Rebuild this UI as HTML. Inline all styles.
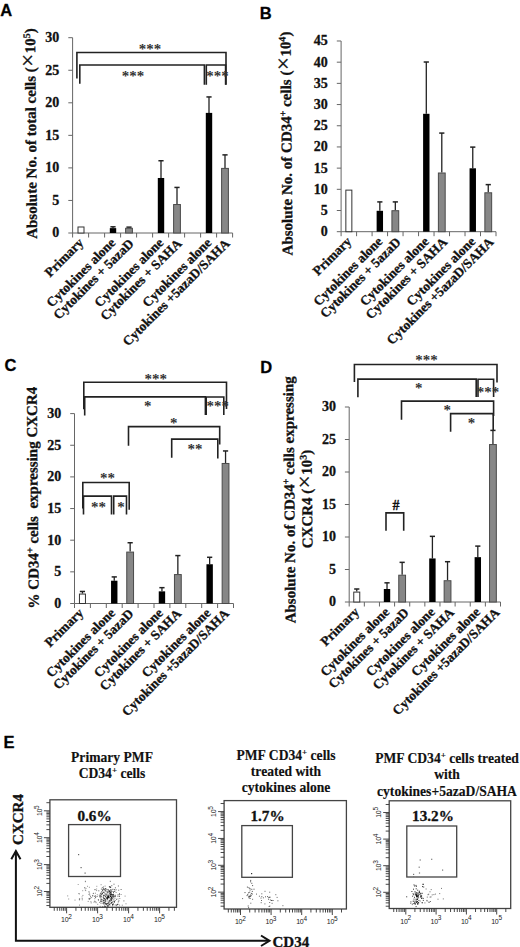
<!DOCTYPE html>
<html><head><meta charset="utf-8"><style>
html,body{margin:0;padding:0;background:#fff;width:520px;height:947px;overflow:hidden;font-family:"Liberation Serif",serif;}
svg{display:block}
text{stroke:#111;stroke-width:0.3px;stroke-linejoin:round}
text.ns{stroke:none}
text.lt{stroke-width:0.15px}
</style></head><body>
<svg width="520" height="947" viewBox="0 0 520 947">
<rect width="520" height="947" fill="#fff"/>
<line x1="72.60" y1="37.70" x2="72.60" y2="233.00" stroke="#666" stroke-width="1" />
<line x1="68.30" y1="233.00" x2="72.60" y2="233.00" stroke="#666" stroke-width="1" />
<text x="59.30" y="237.40" font-family="Liberation Serif" font-weight="bold" font-size="14" text-anchor="end" fill="#111" >0</text>
<line x1="68.30" y1="200.45" x2="72.60" y2="200.45" stroke="#666" stroke-width="1" />
<text x="59.30" y="204.85" font-family="Liberation Serif" font-weight="bold" font-size="14" text-anchor="end" fill="#111" >5</text>
<line x1="68.30" y1="167.90" x2="72.60" y2="167.90" stroke="#666" stroke-width="1" />
<text x="59.30" y="172.30" font-family="Liberation Serif" font-weight="bold" font-size="14" text-anchor="end" fill="#111" >10</text>
<line x1="68.30" y1="135.35" x2="72.60" y2="135.35" stroke="#666" stroke-width="1" />
<text x="59.30" y="139.75" font-family="Liberation Serif" font-weight="bold" font-size="14" text-anchor="end" fill="#111" >15</text>
<line x1="68.30" y1="102.80" x2="72.60" y2="102.80" stroke="#666" stroke-width="1" />
<text x="59.30" y="107.20" font-family="Liberation Serif" font-weight="bold" font-size="14" text-anchor="end" fill="#111" >20</text>
<line x1="68.30" y1="70.25" x2="72.60" y2="70.25" stroke="#666" stroke-width="1" />
<text x="59.30" y="74.65" font-family="Liberation Serif" font-weight="bold" font-size="14" text-anchor="end" fill="#111" >25</text>
<line x1="68.30" y1="37.70" x2="72.60" y2="37.70" stroke="#666" stroke-width="1" />
<text x="59.30" y="42.10" font-family="Liberation Serif" font-weight="bold" font-size="14" text-anchor="end" fill="#111" >30</text>
<line x1="72.60" y1="233.00" x2="232.60" y2="233.00" stroke="#666" stroke-width="1" />
<line x1="72.60" y1="233.00" x2="72.60" y2="237.50" stroke="#666" stroke-width="1" />
<line x1="88.60" y1="233.00" x2="88.60" y2="237.50" stroke="#666" stroke-width="1" />
<line x1="104.60" y1="233.00" x2="104.60" y2="237.50" stroke="#666" stroke-width="1" />
<line x1="120.60" y1="233.00" x2="120.60" y2="237.50" stroke="#666" stroke-width="1" />
<line x1="136.60" y1="233.00" x2="136.60" y2="237.50" stroke="#666" stroke-width="1" />
<line x1="152.60" y1="233.00" x2="152.60" y2="237.50" stroke="#666" stroke-width="1" />
<line x1="168.60" y1="233.00" x2="168.60" y2="237.50" stroke="#666" stroke-width="1" />
<line x1="184.60" y1="233.00" x2="184.60" y2="237.50" stroke="#666" stroke-width="1" />
<line x1="200.60" y1="233.00" x2="200.60" y2="237.50" stroke="#666" stroke-width="1" />
<line x1="216.60" y1="233.00" x2="216.60" y2="237.50" stroke="#666" stroke-width="1" />
<line x1="232.60" y1="233.00" x2="232.60" y2="237.50" stroke="#666" stroke-width="1" />
<rect x="78.00" y="226.99" width="6.00" height="6.01" fill="#fff" stroke="#333" stroke-width="1"/>
<line x1="113.00" y1="226.82" x2="113.00" y2="228.12" stroke="#222" stroke-width="1.3" />
<line x1="110.40" y1="226.82" x2="115.60" y2="226.82" stroke="#222" stroke-width="1.5" />
<rect x="109.80" y="228.12" width="6.40" height="4.88" fill="#000"/>
<line x1="129.00" y1="227.14" x2="129.00" y2="227.79" stroke="#222" stroke-width="1.3" />
<line x1="126.40" y1="227.14" x2="131.60" y2="227.14" stroke="#222" stroke-width="1.5" />
<rect x="125.60" y="228.29" width="6.80" height="4.71" fill="#878787" stroke="#4a4a4a" stroke-width="1"/>
<line x1="161.00" y1="160.74" x2="161.00" y2="177.99" stroke="#222" stroke-width="1.3" />
<line x1="158.40" y1="160.74" x2="163.60" y2="160.74" stroke="#222" stroke-width="1.5" />
<rect x="157.80" y="177.99" width="6.40" height="55.01" fill="#000"/>
<line x1="177.00" y1="187.43" x2="177.00" y2="204.03" stroke="#222" stroke-width="1.3" />
<line x1="174.40" y1="187.43" x2="179.60" y2="187.43" stroke="#222" stroke-width="1.5" />
<rect x="173.60" y="204.53" width="6.80" height="28.47" fill="#878787" stroke="#4a4a4a" stroke-width="1"/>
<line x1="209.00" y1="96.94" x2="209.00" y2="112.89" stroke="#222" stroke-width="1.3" />
<line x1="206.40" y1="96.94" x2="211.60" y2="96.94" stroke="#222" stroke-width="1.5" />
<rect x="205.80" y="112.89" width="6.40" height="120.11" fill="#000"/>
<line x1="225.00" y1="154.88" x2="225.00" y2="167.90" stroke="#222" stroke-width="1.3" />
<line x1="222.40" y1="154.88" x2="227.60" y2="154.88" stroke="#222" stroke-width="1.5" />
<rect x="221.60" y="168.40" width="6.80" height="64.60" fill="#878787" stroke="#4a4a4a" stroke-width="1"/>
<text x="0.00" y="0.00" font-family="Liberation Serif" font-weight="bold" font-size="13.4" text-anchor="end" fill="#111" transform="translate(81.10,240.30) rotate(-45)" dominant-baseline="central">Primary</text>
<text x="0.00" y="0.00" font-family="Liberation Serif" font-weight="bold" font-size="13.4" text-anchor="end" fill="#111" transform="translate(113.10,240.30) rotate(-45)" dominant-baseline="central">Cytokines alone</text>
<text x="0.00" y="0.00" font-family="Liberation Serif" font-weight="bold" font-size="13.4" text-anchor="end" fill="#111" transform="translate(131.40,241.10) rotate(-45)" dominant-baseline="central">Cytokines + 5azaD</text>
<text x="0.00" y="0.00" font-family="Liberation Serif" font-weight="bold" font-size="13.4" text-anchor="end" fill="#111" transform="translate(161.10,240.30) rotate(-45)" dominant-baseline="central">Cytokines alone</text>
<text x="0.00" y="0.00" font-family="Liberation Serif" font-weight="bold" font-size="13.4" text-anchor="end" fill="#111" transform="translate(179.40,241.10) rotate(-45)" dominant-baseline="central">Cytokines + SAHA</text>
<text x="0.00" y="0.00" font-family="Liberation Serif" font-weight="bold" font-size="13.4" text-anchor="end" fill="#111" transform="translate(209.10,240.30) rotate(-45)" dominant-baseline="central">Cytokines alone</text>
<text x="0.00" y="0.00" font-family="Liberation Serif" font-weight="bold" font-size="13.4" text-anchor="end" fill="#111" transform="translate(227.40,241.10) rotate(-45)" dominant-baseline="central">Cytokines +5azaD/SAHA</text>
<path d="M76.90 78.50 V52.50 H226.00 V84.80" fill="none" stroke="#222" stroke-width="1.6" stroke-linejoin="miter"/>
<text x="150.00" y="53.50" font-family="Liberation Serif" font-weight="bold" font-size="15" text-anchor="middle" fill="#333" class="ns">***</text>
<path d="M79.80 83.80 V65.00 H204.40 V84.80" fill="none" stroke="#222" stroke-width="1.6" stroke-linejoin="miter"/>
<text x="133.00" y="81.30" font-family="Liberation Serif" font-weight="bold" font-size="15" text-anchor="middle" fill="#333" class="ns">***</text>
<path d="M206.30 84.80 V65.00 H225.60 V84.80" fill="none" stroke="#222" stroke-width="1.6" stroke-linejoin="miter"/>
<text x="217.50" y="81.30" font-family="Liberation Serif" font-weight="bold" font-size="15" text-anchor="middle" fill="#333" class="ns">***</text>
<text transform="translate(36.00,133.50) rotate(-90.55)" font-family="Liberation Serif" font-weight="bold" font-size="15" text-anchor="middle" fill="#111">Absolute No. of total cells (<tspan font-weight="normal" font-size="23" dx="0.5">×</tspan><tspan dx="0.5">10</tspan><tspan dy="-5" font-size="10">5</tspan><tspan dy="5">)</tspan></text>
<text x="0.20" y="16.40" font-family="Liberation Sans" font-weight="bold" font-size="16.5" text-anchor="start" fill="#000" >A</text>
<line x1="341.10" y1="40.99" x2="341.10" y2="231.70" stroke="#666" stroke-width="1" />
<line x1="336.80" y1="231.70" x2="341.10" y2="231.70" stroke="#666" stroke-width="1" />
<text x="327.80" y="236.10" font-family="Liberation Serif" font-weight="bold" font-size="14" text-anchor="end" fill="#111" >0</text>
<line x1="336.80" y1="210.51" x2="341.10" y2="210.51" stroke="#666" stroke-width="1" />
<text x="327.80" y="214.91" font-family="Liberation Serif" font-weight="bold" font-size="14" text-anchor="end" fill="#111" >5</text>
<line x1="336.80" y1="189.32" x2="341.10" y2="189.32" stroke="#666" stroke-width="1" />
<text x="327.80" y="193.72" font-family="Liberation Serif" font-weight="bold" font-size="14" text-anchor="end" fill="#111" >10</text>
<line x1="336.80" y1="168.13" x2="341.10" y2="168.13" stroke="#666" stroke-width="1" />
<text x="327.80" y="172.53" font-family="Liberation Serif" font-weight="bold" font-size="14" text-anchor="end" fill="#111" >15</text>
<line x1="336.80" y1="146.94" x2="341.10" y2="146.94" stroke="#666" stroke-width="1" />
<text x="327.80" y="151.34" font-family="Liberation Serif" font-weight="bold" font-size="14" text-anchor="end" fill="#111" >20</text>
<line x1="336.80" y1="125.75" x2="341.10" y2="125.75" stroke="#666" stroke-width="1" />
<text x="327.80" y="130.15" font-family="Liberation Serif" font-weight="bold" font-size="14" text-anchor="end" fill="#111" >25</text>
<line x1="336.80" y1="104.56" x2="341.10" y2="104.56" stroke="#666" stroke-width="1" />
<text x="327.80" y="108.96" font-family="Liberation Serif" font-weight="bold" font-size="14" text-anchor="end" fill="#111" >30</text>
<line x1="336.80" y1="83.37" x2="341.10" y2="83.37" stroke="#666" stroke-width="1" />
<text x="327.80" y="87.77" font-family="Liberation Serif" font-weight="bold" font-size="14" text-anchor="end" fill="#111" >35</text>
<line x1="336.80" y1="62.18" x2="341.10" y2="62.18" stroke="#666" stroke-width="1" />
<text x="327.80" y="66.58" font-family="Liberation Serif" font-weight="bold" font-size="14" text-anchor="end" fill="#111" >40</text>
<line x1="336.80" y1="40.99" x2="341.10" y2="40.99" stroke="#666" stroke-width="1" />
<text x="327.80" y="45.39" font-family="Liberation Serif" font-weight="bold" font-size="14" text-anchor="end" fill="#111" >45</text>
<line x1="341.10" y1="231.70" x2="496.00" y2="231.70" stroke="#666" stroke-width="1" />
<line x1="341.10" y1="231.70" x2="341.10" y2="236.20" stroke="#666" stroke-width="1" />
<line x1="356.59" y1="231.70" x2="356.59" y2="236.20" stroke="#666" stroke-width="1" />
<line x1="372.08" y1="231.70" x2="372.08" y2="236.20" stroke="#666" stroke-width="1" />
<line x1="387.57" y1="231.70" x2="387.57" y2="236.20" stroke="#666" stroke-width="1" />
<line x1="403.06" y1="231.70" x2="403.06" y2="236.20" stroke="#666" stroke-width="1" />
<line x1="418.55" y1="231.70" x2="418.55" y2="236.20" stroke="#666" stroke-width="1" />
<line x1="434.04" y1="231.70" x2="434.04" y2="236.20" stroke="#666" stroke-width="1" />
<line x1="449.53" y1="231.70" x2="449.53" y2="236.20" stroke="#666" stroke-width="1" />
<line x1="465.02" y1="231.70" x2="465.02" y2="236.20" stroke="#666" stroke-width="1" />
<line x1="480.51" y1="231.70" x2="480.51" y2="236.20" stroke="#666" stroke-width="1" />
<line x1="496.00" y1="231.70" x2="496.00" y2="236.20" stroke="#666" stroke-width="1" />
<rect x="345.85" y="190.12" width="6.00" height="41.58" fill="#fff" stroke="#333" stroke-width="1"/>
<line x1="379.83" y1="201.91" x2="379.83" y2="210.81" stroke="#222" stroke-width="1.3" />
<line x1="377.23" y1="201.91" x2="382.43" y2="201.91" stroke="#222" stroke-width="1.5" />
<rect x="376.63" y="210.81" width="6.40" height="20.89" fill="#000"/>
<line x1="395.32" y1="201.91" x2="395.32" y2="210.21" stroke="#222" stroke-width="1.3" />
<line x1="392.72" y1="201.91" x2="397.92" y2="201.91" stroke="#222" stroke-width="1.5" />
<rect x="391.92" y="210.71" width="6.80" height="20.99" fill="#878787" stroke="#4a4a4a" stroke-width="1"/>
<line x1="426.30" y1="62.01" x2="426.30" y2="113.80" stroke="#222" stroke-width="1.3" />
<line x1="423.69" y1="62.01" x2="428.90" y2="62.01" stroke="#222" stroke-width="1.5" />
<rect x="423.10" y="113.80" width="6.40" height="117.90" fill="#000"/>
<line x1="441.79" y1="133.08" x2="441.79" y2="172.50" stroke="#222" stroke-width="1.3" />
<line x1="439.19" y1="133.08" x2="444.39" y2="133.08" stroke="#222" stroke-width="1.5" />
<rect x="438.39" y="173.00" width="6.80" height="58.70" fill="#878787" stroke="#4a4a4a" stroke-width="1"/>
<line x1="472.76" y1="147.11" x2="472.76" y2="168.30" stroke="#222" stroke-width="1.3" />
<line x1="470.16" y1="147.11" x2="475.37" y2="147.11" stroke="#222" stroke-width="1.5" />
<rect x="469.56" y="168.30" width="6.40" height="63.40" fill="#000"/>
<line x1="488.25" y1="184.62" x2="488.25" y2="192.29" stroke="#222" stroke-width="1.3" />
<line x1="485.65" y1="184.62" x2="490.86" y2="184.62" stroke="#222" stroke-width="1.5" />
<rect x="484.86" y="192.79" width="6.80" height="38.91" fill="#878787" stroke="#4a4a4a" stroke-width="1"/>
<text x="0.00" y="0.00" font-family="Liberation Serif" font-weight="bold" font-size="13.4" text-anchor="end" fill="#111" transform="translate(349.05,239.00) rotate(-45)" dominant-baseline="central">Primary</text>
<text x="0.00" y="0.00" font-family="Liberation Serif" font-weight="bold" font-size="13.4" text-anchor="end" fill="#111" transform="translate(380.03,239.00) rotate(-45)" dominant-baseline="central">Cytokines alone</text>
<text x="0.00" y="0.00" font-family="Liberation Serif" font-weight="bold" font-size="13.4" text-anchor="end" fill="#111" transform="translate(398.32,239.80) rotate(-45)" dominant-baseline="central">Cytokines + 5azaD</text>
<text x="0.00" y="0.00" font-family="Liberation Serif" font-weight="bold" font-size="13.4" text-anchor="end" fill="#111" transform="translate(426.50,239.00) rotate(-45)" dominant-baseline="central">Cytokines alone</text>
<text x="0.00" y="0.00" font-family="Liberation Serif" font-weight="bold" font-size="13.4" text-anchor="end" fill="#111" transform="translate(444.79,239.80) rotate(-45)" dominant-baseline="central">Cytokines + SAHA</text>
<text x="0.00" y="0.00" font-family="Liberation Serif" font-weight="bold" font-size="13.4" text-anchor="end" fill="#111" transform="translate(472.96,239.00) rotate(-45)" dominant-baseline="central">Cytokines alone</text>
<text x="0.00" y="0.00" font-family="Liberation Serif" font-weight="bold" font-size="13.4" text-anchor="end" fill="#111" transform="translate(491.25,239.80) rotate(-45)" dominant-baseline="central">Cytokines +5azaD/SAHA</text>
<text transform="translate(291.50,143.50) rotate(-90.55)" font-family="Liberation Serif" font-weight="bold" font-size="15" text-anchor="middle" fill="#111">Absolute No. of CD34<tspan dy="-5" font-size="10">+</tspan><tspan dy="5"> cells </tspan>(<tspan font-weight="normal" font-size="23" dx="0.5">×</tspan><tspan dx="0.5">10</tspan><tspan dy="-5" font-size="10">4</tspan><tspan dy="5">)</tspan></text>
<text x="259.80" y="19.30" font-family="Liberation Sans" font-weight="bold" font-size="16.5" text-anchor="start" fill="#000" >B</text>
<line x1="74.50" y1="413.60" x2="74.50" y2="603.50" stroke="#666" stroke-width="1" />
<line x1="70.20" y1="603.50" x2="74.50" y2="603.50" stroke="#666" stroke-width="1" />
<text x="61.20" y="607.90" font-family="Liberation Serif" font-weight="bold" font-size="14" text-anchor="end" fill="#111" >0</text>
<line x1="70.20" y1="571.85" x2="74.50" y2="571.85" stroke="#666" stroke-width="1" />
<text x="61.20" y="576.25" font-family="Liberation Serif" font-weight="bold" font-size="14" text-anchor="end" fill="#111" >5</text>
<line x1="70.20" y1="540.20" x2="74.50" y2="540.20" stroke="#666" stroke-width="1" />
<text x="61.20" y="544.60" font-family="Liberation Serif" font-weight="bold" font-size="14" text-anchor="end" fill="#111" >10</text>
<line x1="70.20" y1="508.55" x2="74.50" y2="508.55" stroke="#666" stroke-width="1" />
<text x="61.20" y="512.95" font-family="Liberation Serif" font-weight="bold" font-size="14" text-anchor="end" fill="#111" >15</text>
<line x1="70.20" y1="476.90" x2="74.50" y2="476.90" stroke="#666" stroke-width="1" />
<text x="61.20" y="481.30" font-family="Liberation Serif" font-weight="bold" font-size="14" text-anchor="end" fill="#111" >20</text>
<line x1="70.20" y1="445.25" x2="74.50" y2="445.25" stroke="#666" stroke-width="1" />
<text x="61.20" y="449.65" font-family="Liberation Serif" font-weight="bold" font-size="14" text-anchor="end" fill="#111" >25</text>
<line x1="70.20" y1="413.60" x2="74.50" y2="413.60" stroke="#666" stroke-width="1" />
<text x="61.20" y="418.00" font-family="Liberation Serif" font-weight="bold" font-size="14" text-anchor="end" fill="#111" >30</text>
<line x1="74.50" y1="603.50" x2="233.50" y2="603.50" stroke="#666" stroke-width="1" />
<line x1="74.50" y1="603.50" x2="74.50" y2="608.00" stroke="#666" stroke-width="1" />
<line x1="90.40" y1="603.50" x2="90.40" y2="608.00" stroke="#666" stroke-width="1" />
<line x1="106.30" y1="603.50" x2="106.30" y2="608.00" stroke="#666" stroke-width="1" />
<line x1="122.20" y1="603.50" x2="122.20" y2="608.00" stroke="#666" stroke-width="1" />
<line x1="138.10" y1="603.50" x2="138.10" y2="608.00" stroke="#666" stroke-width="1" />
<line x1="154.00" y1="603.50" x2="154.00" y2="608.00" stroke="#666" stroke-width="1" />
<line x1="169.90" y1="603.50" x2="169.90" y2="608.00" stroke="#666" stroke-width="1" />
<line x1="185.80" y1="603.50" x2="185.80" y2="608.00" stroke="#666" stroke-width="1" />
<line x1="201.70" y1="603.50" x2="201.70" y2="608.00" stroke="#666" stroke-width="1" />
<line x1="217.60" y1="603.50" x2="217.60" y2="608.00" stroke="#666" stroke-width="1" />
<line x1="233.50" y1="603.50" x2="233.50" y2="608.00" stroke="#666" stroke-width="1" />
<line x1="82.45" y1="591.47" x2="82.45" y2="593.56" stroke="#222" stroke-width="1.3" />
<line x1="79.85" y1="591.47" x2="85.05" y2="591.47" stroke="#222" stroke-width="1.5" />
<rect x="79.45" y="594.06" width="6.00" height="9.44" fill="#fff" stroke="#333" stroke-width="1"/>
<line x1="114.25" y1="576.91" x2="114.25" y2="580.71" stroke="#222" stroke-width="1.3" />
<line x1="111.65" y1="576.91" x2="116.85" y2="576.91" stroke="#222" stroke-width="1.5" />
<rect x="111.05" y="580.71" width="6.40" height="22.79" fill="#000"/>
<line x1="130.15" y1="542.73" x2="130.15" y2="551.59" stroke="#222" stroke-width="1.3" />
<line x1="127.55" y1="542.73" x2="132.75" y2="542.73" stroke="#222" stroke-width="1.5" />
<rect x="126.75" y="552.09" width="6.80" height="51.41" fill="#878787" stroke="#4a4a4a" stroke-width="1"/>
<line x1="161.95" y1="587.67" x2="161.95" y2="591.35" stroke="#222" stroke-width="1.3" />
<line x1="159.35" y1="587.67" x2="164.55" y2="587.67" stroke="#222" stroke-width="1.5" />
<rect x="158.75" y="591.35" width="6.40" height="12.15" fill="#000"/>
<line x1="177.85" y1="555.58" x2="177.85" y2="574.07" stroke="#222" stroke-width="1.3" />
<line x1="175.25" y1="555.58" x2="180.45" y2="555.58" stroke="#222" stroke-width="1.5" />
<rect x="174.45" y="574.57" width="6.80" height="28.93" fill="#878787" stroke="#4a4a4a" stroke-width="1"/>
<line x1="209.65" y1="557.29" x2="209.65" y2="564.25" stroke="#222" stroke-width="1.3" />
<line x1="207.05" y1="557.29" x2="212.25" y2="557.29" stroke="#222" stroke-width="1.5" />
<rect x="206.45" y="564.25" width="6.40" height="39.25" fill="#000"/>
<line x1="225.55" y1="450.95" x2="225.55" y2="462.97" stroke="#222" stroke-width="1.3" />
<line x1="222.95" y1="450.95" x2="228.15" y2="450.95" stroke="#222" stroke-width="1.5" />
<rect x="222.15" y="463.47" width="6.80" height="140.03" fill="#878787" stroke="#4a4a4a" stroke-width="1"/>
<text x="0.00" y="0.00" font-family="Liberation Serif" font-weight="bold" font-size="13.4" text-anchor="end" fill="#111" transform="translate(80.95,610.50) rotate(-45)" dominant-baseline="central">Primary</text>
<text x="0.00" y="0.00" font-family="Liberation Serif" font-weight="bold" font-size="13.4" text-anchor="end" fill="#111" transform="translate(112.75,610.50) rotate(-45)" dominant-baseline="central">Cytokines alone</text>
<text x="0.00" y="0.00" font-family="Liberation Serif" font-weight="bold" font-size="13.4" text-anchor="end" fill="#111" transform="translate(131.15,611.30) rotate(-45)" dominant-baseline="central">Cytokines + 5azaD</text>
<text x="0.00" y="0.00" font-family="Liberation Serif" font-weight="bold" font-size="13.4" text-anchor="end" fill="#111" transform="translate(160.45,610.50) rotate(-45)" dominant-baseline="central">Cytokines alone</text>
<text x="0.00" y="0.00" font-family="Liberation Serif" font-weight="bold" font-size="13.4" text-anchor="end" fill="#111" transform="translate(178.85,611.30) rotate(-45)" dominant-baseline="central">Cytokines + SAHA</text>
<text x="0.00" y="0.00" font-family="Liberation Serif" font-weight="bold" font-size="13.4" text-anchor="end" fill="#111" transform="translate(208.15,610.50) rotate(-45)" dominant-baseline="central">Cytokines alone</text>
<text x="0.00" y="0.00" font-family="Liberation Serif" font-weight="bold" font-size="13.4" text-anchor="end" fill="#111" transform="translate(226.55,611.30) rotate(-45)" dominant-baseline="central">Cytokines +5azaD/SAHA</text>
<path d="M83.80 409.20 V382.20 H226.50 V409.00" fill="none" stroke="#222" stroke-width="1.6" stroke-linejoin="miter"/>
<text x="155.80" y="384.20" font-family="Liberation Serif" font-weight="bold" font-size="15" text-anchor="middle" fill="#333" class="ns">***</text>
<path d="M84.70 415.50 V396.90 H205.40 V415.00" fill="none" stroke="#222" stroke-width="1.6" stroke-linejoin="miter"/>
<text x="147.80" y="411.30" font-family="Liberation Serif" font-weight="bold" font-size="15" text-anchor="middle" fill="#333" class="ns">*</text>
<path d="M206.20 415.00 V397.00 H223.80 V415.00" fill="none" stroke="#222" stroke-width="1.6" stroke-linejoin="miter"/>
<text x="217.80" y="410.50" font-family="Liberation Serif" font-weight="bold" font-size="15" text-anchor="middle" fill="#333" class="ns">***</text>
<path d="M128.50 445.80 V426.60 H219.70 V444.60" fill="none" stroke="#222" stroke-width="1.6" stroke-linejoin="miter"/>
<text x="173.80" y="427.90" font-family="Liberation Serif" font-weight="bold" font-size="15" text-anchor="middle" fill="#333" class="ns">*</text>
<path d="M171.70 457.80 V439.10 H217.80 V458.50" fill="none" stroke="#222" stroke-width="1.6" stroke-linejoin="miter"/>
<text x="195.00" y="454.40" font-family="Liberation Serif" font-weight="bold" font-size="15" text-anchor="middle" fill="#333" class="ns">**</text>
<path d="M82.80 508.50 V482.50 H129.20 V509.80" fill="none" stroke="#222" stroke-width="1.6" stroke-linejoin="miter"/>
<text x="107.40" y="483.20" font-family="Liberation Serif" font-weight="bold" font-size="15" text-anchor="middle" fill="#333" class="ns">**</text>
<path d="M83.50 514.50 V496.10 H111.50 V514.50" fill="none" stroke="#222" stroke-width="1.6" stroke-linejoin="miter"/>
<text x="98.50" y="511.50" font-family="Liberation Serif" font-weight="bold" font-size="15" text-anchor="middle" fill="#333" class="ns">**</text>
<path d="M113.70 514.50 V496.10 H126.50 V514.50" fill="none" stroke="#222" stroke-width="1.6" stroke-linejoin="miter"/>
<text x="120.90" y="511.50" font-family="Liberation Serif" font-weight="bold" font-size="15" text-anchor="middle" fill="#333" class="ns">*</text>
<text transform="translate(37.70,497.60) rotate(-90.55)" font-family="Liberation Serif" font-weight="bold" font-size="15" text-anchor="middle" fill="#111">% CD34<tspan dy="-5" font-size="10">+</tspan><tspan dy="5" xml:space="preserve"> cells  expressing CXCR4</tspan></text>
<text x="4.60" y="370.70" font-family="Liberation Sans" font-weight="bold" font-size="16.5" text-anchor="start" fill="#000" >C</text>
<line x1="349.20" y1="407.00" x2="349.20" y2="602.00" stroke="#666" stroke-width="1" />
<line x1="344.90" y1="602.00" x2="349.20" y2="602.00" stroke="#666" stroke-width="1" />
<text x="335.90" y="606.40" font-family="Liberation Serif" font-weight="bold" font-size="14" text-anchor="end" fill="#111" >0</text>
<line x1="344.90" y1="569.50" x2="349.20" y2="569.50" stroke="#666" stroke-width="1" />
<text x="335.90" y="573.90" font-family="Liberation Serif" font-weight="bold" font-size="14" text-anchor="end" fill="#111" >5</text>
<line x1="344.90" y1="537.00" x2="349.20" y2="537.00" stroke="#666" stroke-width="1" />
<text x="335.90" y="541.40" font-family="Liberation Serif" font-weight="bold" font-size="14" text-anchor="end" fill="#111" >10</text>
<line x1="344.90" y1="504.50" x2="349.20" y2="504.50" stroke="#666" stroke-width="1" />
<text x="335.90" y="508.90" font-family="Liberation Serif" font-weight="bold" font-size="14" text-anchor="end" fill="#111" >15</text>
<line x1="344.90" y1="472.00" x2="349.20" y2="472.00" stroke="#666" stroke-width="1" />
<text x="335.90" y="476.40" font-family="Liberation Serif" font-weight="bold" font-size="14" text-anchor="end" fill="#111" >20</text>
<line x1="344.90" y1="439.50" x2="349.20" y2="439.50" stroke="#666" stroke-width="1" />
<text x="335.90" y="443.90" font-family="Liberation Serif" font-weight="bold" font-size="14" text-anchor="end" fill="#111" >25</text>
<line x1="344.90" y1="407.00" x2="349.20" y2="407.00" stroke="#666" stroke-width="1" />
<text x="335.90" y="411.40" font-family="Liberation Serif" font-weight="bold" font-size="14" text-anchor="end" fill="#111" >30</text>
<line x1="349.20" y1="602.00" x2="500.50" y2="602.00" stroke="#666" stroke-width="1" />
<line x1="349.20" y1="602.00" x2="349.20" y2="606.50" stroke="#666" stroke-width="1" />
<line x1="364.33" y1="602.00" x2="364.33" y2="606.50" stroke="#666" stroke-width="1" />
<line x1="379.46" y1="602.00" x2="379.46" y2="606.50" stroke="#666" stroke-width="1" />
<line x1="394.59" y1="602.00" x2="394.59" y2="606.50" stroke="#666" stroke-width="1" />
<line x1="409.72" y1="602.00" x2="409.72" y2="606.50" stroke="#666" stroke-width="1" />
<line x1="424.85" y1="602.00" x2="424.85" y2="606.50" stroke="#666" stroke-width="1" />
<line x1="439.98" y1="602.00" x2="439.98" y2="606.50" stroke="#666" stroke-width="1" />
<line x1="455.11" y1="602.00" x2="455.11" y2="606.50" stroke="#666" stroke-width="1" />
<line x1="470.24" y1="602.00" x2="470.24" y2="606.50" stroke="#666" stroke-width="1" />
<line x1="485.37" y1="602.00" x2="485.37" y2="606.50" stroke="#666" stroke-width="1" />
<line x1="500.50" y1="602.00" x2="500.50" y2="606.50" stroke="#666" stroke-width="1" />
<line x1="356.76" y1="589.00" x2="356.76" y2="591.60" stroke="#222" stroke-width="1.3" />
<line x1="354.16" y1="589.00" x2="359.37" y2="589.00" stroke="#222" stroke-width="1.5" />
<rect x="353.76" y="592.10" width="6.00" height="9.90" fill="#fff" stroke="#333" stroke-width="1"/>
<line x1="387.02" y1="582.83" x2="387.02" y2="589.00" stroke="#222" stroke-width="1.3" />
<line x1="384.42" y1="582.83" x2="389.62" y2="582.83" stroke="#222" stroke-width="1.5" />
<rect x="383.82" y="589.00" width="6.40" height="13.00" fill="#000"/>
<line x1="402.15" y1="562.35" x2="402.15" y2="574.70" stroke="#222" stroke-width="1.3" />
<line x1="399.55" y1="562.35" x2="404.75" y2="562.35" stroke="#222" stroke-width="1.5" />
<rect x="398.75" y="575.20" width="6.80" height="26.80" fill="#878787" stroke="#4a4a4a" stroke-width="1"/>
<line x1="432.41" y1="536.35" x2="432.41" y2="558.45" stroke="#222" stroke-width="1.3" />
<line x1="429.81" y1="536.35" x2="435.01" y2="536.35" stroke="#222" stroke-width="1.5" />
<rect x="429.21" y="558.45" width="6.40" height="43.55" fill="#000"/>
<line x1="447.54" y1="561.70" x2="447.54" y2="580.23" stroke="#222" stroke-width="1.3" />
<line x1="444.94" y1="561.70" x2="450.14" y2="561.70" stroke="#222" stroke-width="1.5" />
<rect x="444.14" y="580.73" width="6.80" height="21.27" fill="#878787" stroke="#4a4a4a" stroke-width="1"/>
<line x1="477.81" y1="546.10" x2="477.81" y2="557.15" stroke="#222" stroke-width="1.3" />
<line x1="475.20" y1="546.10" x2="480.41" y2="546.10" stroke="#222" stroke-width="1.5" />
<rect x="474.61" y="557.15" width="6.40" height="44.85" fill="#000"/>
<line x1="492.94" y1="430.40" x2="492.94" y2="444.05" stroke="#222" stroke-width="1.3" />
<line x1="490.33" y1="430.40" x2="495.54" y2="430.40" stroke="#222" stroke-width="1.5" />
<rect x="489.54" y="444.55" width="6.80" height="157.45" fill="#878787" stroke="#4a4a4a" stroke-width="1"/>
<text x="0.00" y="0.00" font-family="Liberation Serif" font-weight="bold" font-size="13.4" text-anchor="end" fill="#111" transform="translate(356.76,609.50) rotate(-45)" dominant-baseline="central">Primary</text>
<text x="0.00" y="0.00" font-family="Liberation Serif" font-weight="bold" font-size="13.4" text-anchor="end" fill="#111" transform="translate(387.02,609.50) rotate(-45)" dominant-baseline="central">Cytokines alone</text>
<text x="0.00" y="0.00" font-family="Liberation Serif" font-weight="bold" font-size="13.4" text-anchor="end" fill="#111" transform="translate(406.35,610.30) rotate(-45)" dominant-baseline="central">Cytokines + 5azaD</text>
<text x="0.00" y="0.00" font-family="Liberation Serif" font-weight="bold" font-size="13.4" text-anchor="end" fill="#111" transform="translate(432.41,609.50) rotate(-45)" dominant-baseline="central">Cytokines alone</text>
<text x="0.00" y="0.00" font-family="Liberation Serif" font-weight="bold" font-size="13.4" text-anchor="end" fill="#111" transform="translate(451.74,610.30) rotate(-45)" dominant-baseline="central">Cytokines + SAHA</text>
<text x="0.00" y="0.00" font-family="Liberation Serif" font-weight="bold" font-size="13.4" text-anchor="end" fill="#111" transform="translate(477.81,609.50) rotate(-45)" dominant-baseline="central">Cytokines alone</text>
<text x="0.00" y="0.00" font-family="Liberation Serif" font-weight="bold" font-size="13.4" text-anchor="end" fill="#111" transform="translate(497.13,610.30) rotate(-45)" dominant-baseline="central">Cytokines +5azaD/SAHA</text>
<path d="M354.40 381.90 V364.50 H497.00 V382.40" fill="none" stroke="#222" stroke-width="1.6" stroke-linejoin="miter"/>
<text x="426.50" y="364.70" font-family="Liberation Serif" font-weight="bold" font-size="15" text-anchor="middle" fill="#333" class="ns">***</text>
<path d="M357.90 397.30 V379.10 H476.20 V397.10" fill="none" stroke="#222" stroke-width="1.6" stroke-linejoin="miter"/>
<text x="418.80" y="392.90" font-family="Liberation Serif" font-weight="bold" font-size="15" text-anchor="middle" fill="#333" class="ns">*</text>
<path d="M478.00 397.00 V379.30 H493.60 V397.00" fill="none" stroke="#222" stroke-width="1.6" stroke-linejoin="miter"/>
<text x="488.00" y="396.50" font-family="Liberation Serif" font-weight="bold" font-size="15" text-anchor="middle" fill="#333" class="ns">***</text>
<path d="M401.50 419.80 V401.10 H493.60 V416.00" fill="none" stroke="#222" stroke-width="1.6" stroke-linejoin="miter"/>
<text x="447.30" y="415.00" font-family="Liberation Serif" font-weight="bold" font-size="15" text-anchor="middle" fill="#333" class="ns">*</text>
<path d="M450.60 431.70 V413.60 H493.20 V430.00" fill="none" stroke="#222" stroke-width="1.6" stroke-linejoin="miter"/>
<text x="471.60" y="428.00" font-family="Liberation Serif" font-weight="bold" font-size="15" text-anchor="middle" fill="#333" class="ns">*</text>
<path d="M386.00 530.80 V512.90 H403.70 V530.80" fill="none" stroke="#222" stroke-width="1.6" stroke-linejoin="miter"/>
<text x="396.00" y="509.80" font-family="Liberation Serif" font-weight="bold" font-size="14" text-anchor="middle" fill="#111" >#</text>
<text transform="translate(294.40,499.80) rotate(-90.55)" font-family="Liberation Serif" font-weight="bold" font-size="15" text-anchor="middle" fill="#111">Absolute No. of CD34<tspan dy="-5" font-size="10">+</tspan><tspan dy="5"> cells expressing</tspan></text>
<text transform="translate(312.00,499.00) rotate(-90.55)" font-family="Liberation Serif" font-weight="bold" font-size="15" text-anchor="middle" fill="#111">CXCR4 (<tspan font-weight="normal" font-size="23" dx="0.5">×</tspan><tspan dx="0.5">10</tspan><tspan dy="-5" font-size="10">3</tspan><tspan dy="5">)</tspan></text>
<text x="260.30" y="372.90" font-family="Liberation Sans" font-weight="bold" font-size="16.5" text-anchor="start" fill="#000" >D</text>
<rect x="49.90" y="799.80" width="126.60" height="107.50" fill="none" stroke="#444" stroke-width="1.3"/>
<line x1="46.40" y1="905.57" x2="49.90" y2="905.57" stroke="#333" stroke-width="0.9" />
<line x1="46.40" y1="902.20" x2="49.90" y2="902.20" stroke="#333" stroke-width="0.9" />
<line x1="46.40" y1="899.60" x2="49.90" y2="899.60" stroke="#333" stroke-width="0.9" />
<line x1="46.40" y1="897.47" x2="49.90" y2="897.47" stroke="#333" stroke-width="0.9" />
<line x1="46.40" y1="895.67" x2="49.90" y2="895.67" stroke="#333" stroke-width="0.9" />
<line x1="46.40" y1="894.11" x2="49.90" y2="894.11" stroke="#333" stroke-width="0.9" />
<line x1="46.40" y1="892.73" x2="49.90" y2="892.73" stroke="#333" stroke-width="0.9" />
<line x1="43.90" y1="891.50" x2="49.90" y2="891.50" stroke="#333" stroke-width="0.9" />
<line x1="46.40" y1="883.40" x2="49.90" y2="883.40" stroke="#333" stroke-width="0.9" />
<line x1="46.40" y1="878.67" x2="49.90" y2="878.67" stroke="#333" stroke-width="0.9" />
<line x1="46.40" y1="875.30" x2="49.90" y2="875.30" stroke="#333" stroke-width="0.9" />
<line x1="46.40" y1="872.70" x2="49.90" y2="872.70" stroke="#333" stroke-width="0.9" />
<line x1="46.40" y1="870.57" x2="49.90" y2="870.57" stroke="#333" stroke-width="0.9" />
<line x1="46.40" y1="868.77" x2="49.90" y2="868.77" stroke="#333" stroke-width="0.9" />
<line x1="46.40" y1="867.21" x2="49.90" y2="867.21" stroke="#333" stroke-width="0.9" />
<line x1="46.40" y1="865.83" x2="49.90" y2="865.83" stroke="#333" stroke-width="0.9" />
<line x1="43.90" y1="864.60" x2="49.90" y2="864.60" stroke="#333" stroke-width="0.9" />
<line x1="46.40" y1="856.50" x2="49.90" y2="856.50" stroke="#333" stroke-width="0.9" />
<line x1="46.40" y1="851.77" x2="49.90" y2="851.77" stroke="#333" stroke-width="0.9" />
<line x1="46.40" y1="848.40" x2="49.90" y2="848.40" stroke="#333" stroke-width="0.9" />
<line x1="46.40" y1="845.80" x2="49.90" y2="845.80" stroke="#333" stroke-width="0.9" />
<line x1="46.40" y1="843.67" x2="49.90" y2="843.67" stroke="#333" stroke-width="0.9" />
<line x1="46.40" y1="841.87" x2="49.90" y2="841.87" stroke="#333" stroke-width="0.9" />
<line x1="46.40" y1="840.31" x2="49.90" y2="840.31" stroke="#333" stroke-width="0.9" />
<line x1="46.40" y1="838.93" x2="49.90" y2="838.93" stroke="#333" stroke-width="0.9" />
<line x1="43.90" y1="837.70" x2="49.90" y2="837.70" stroke="#333" stroke-width="0.9" />
<line x1="46.40" y1="829.60" x2="49.90" y2="829.60" stroke="#333" stroke-width="0.9" />
<line x1="46.40" y1="824.87" x2="49.90" y2="824.87" stroke="#333" stroke-width="0.9" />
<line x1="46.40" y1="821.50" x2="49.90" y2="821.50" stroke="#333" stroke-width="0.9" />
<line x1="46.40" y1="818.90" x2="49.90" y2="818.90" stroke="#333" stroke-width="0.9" />
<line x1="46.40" y1="816.77" x2="49.90" y2="816.77" stroke="#333" stroke-width="0.9" />
<line x1="46.40" y1="814.97" x2="49.90" y2="814.97" stroke="#333" stroke-width="0.9" />
<line x1="46.40" y1="813.41" x2="49.90" y2="813.41" stroke="#333" stroke-width="0.9" />
<line x1="46.40" y1="812.03" x2="49.90" y2="812.03" stroke="#333" stroke-width="0.9" />
<line x1="43.90" y1="810.80" x2="49.90" y2="810.80" stroke="#333" stroke-width="0.9" />
<line x1="46.40" y1="802.70" x2="49.90" y2="802.70" stroke="#333" stroke-width="0.9" />
<text class="ns" transform="translate(42.10,896.80) rotate(-90)" font-family="Liberation Sans" font-size="7" letter-spacing="-0.3" fill="#222">10<tspan dy="-3.5" font-size="6.5">2</tspan></text>
<text class="ns" transform="translate(42.10,869.90) rotate(-90)" font-family="Liberation Sans" font-size="7" letter-spacing="-0.3" fill="#222">10<tspan dy="-3.5" font-size="6.5">3</tspan></text>
<text class="ns" transform="translate(42.10,843.00) rotate(-90)" font-family="Liberation Sans" font-size="7" letter-spacing="-0.3" fill="#222">10<tspan dy="-3.5" font-size="6.5">4</tspan></text>
<text class="ns" transform="translate(42.10,816.10) rotate(-90)" font-family="Liberation Sans" font-size="7" letter-spacing="-0.3" fill="#222">10<tspan dy="-3.5" font-size="6.5">5</tspan></text>
<line x1="54.26" y1="907.30" x2="54.26" y2="910.80" stroke="#333" stroke-width="0.9" />
<line x1="57.27" y1="907.30" x2="57.27" y2="910.80" stroke="#333" stroke-width="0.9" />
<line x1="59.72" y1="907.30" x2="59.72" y2="910.80" stroke="#333" stroke-width="0.9" />
<line x1="61.80" y1="907.30" x2="61.80" y2="910.80" stroke="#333" stroke-width="0.9" />
<line x1="63.60" y1="907.30" x2="63.60" y2="910.80" stroke="#333" stroke-width="0.9" />
<line x1="65.18" y1="907.30" x2="65.18" y2="910.80" stroke="#333" stroke-width="0.9" />
<line x1="66.60" y1="907.30" x2="66.60" y2="913.30" stroke="#333" stroke-width="0.9" />
<line x1="75.93" y1="907.30" x2="75.93" y2="910.80" stroke="#333" stroke-width="0.9" />
<line x1="81.39" y1="907.30" x2="81.39" y2="910.80" stroke="#333" stroke-width="0.9" />
<line x1="85.26" y1="907.30" x2="85.26" y2="910.80" stroke="#333" stroke-width="0.9" />
<line x1="88.27" y1="907.30" x2="88.27" y2="910.80" stroke="#333" stroke-width="0.9" />
<line x1="90.72" y1="907.30" x2="90.72" y2="910.80" stroke="#333" stroke-width="0.9" />
<line x1="92.80" y1="907.30" x2="92.80" y2="910.80" stroke="#333" stroke-width="0.9" />
<line x1="94.60" y1="907.30" x2="94.60" y2="910.80" stroke="#333" stroke-width="0.9" />
<line x1="96.18" y1="907.30" x2="96.18" y2="910.80" stroke="#333" stroke-width="0.9" />
<line x1="97.60" y1="907.30" x2="97.60" y2="913.30" stroke="#333" stroke-width="0.9" />
<line x1="106.93" y1="907.30" x2="106.93" y2="910.80" stroke="#333" stroke-width="0.9" />
<line x1="112.39" y1="907.30" x2="112.39" y2="910.80" stroke="#333" stroke-width="0.9" />
<line x1="116.26" y1="907.30" x2="116.26" y2="910.80" stroke="#333" stroke-width="0.9" />
<line x1="119.27" y1="907.30" x2="119.27" y2="910.80" stroke="#333" stroke-width="0.9" />
<line x1="121.72" y1="907.30" x2="121.72" y2="910.80" stroke="#333" stroke-width="0.9" />
<line x1="123.80" y1="907.30" x2="123.80" y2="910.80" stroke="#333" stroke-width="0.9" />
<line x1="125.60" y1="907.30" x2="125.60" y2="910.80" stroke="#333" stroke-width="0.9" />
<line x1="127.18" y1="907.30" x2="127.18" y2="910.80" stroke="#333" stroke-width="0.9" />
<line x1="128.60" y1="907.30" x2="128.60" y2="913.30" stroke="#333" stroke-width="0.9" />
<line x1="137.93" y1="907.30" x2="137.93" y2="910.80" stroke="#333" stroke-width="0.9" />
<line x1="143.39" y1="907.30" x2="143.39" y2="910.80" stroke="#333" stroke-width="0.9" />
<line x1="147.26" y1="907.30" x2="147.26" y2="910.80" stroke="#333" stroke-width="0.9" />
<line x1="150.27" y1="907.30" x2="150.27" y2="910.80" stroke="#333" stroke-width="0.9" />
<line x1="152.72" y1="907.30" x2="152.72" y2="910.80" stroke="#333" stroke-width="0.9" />
<line x1="154.80" y1="907.30" x2="154.80" y2="910.80" stroke="#333" stroke-width="0.9" />
<line x1="156.60" y1="907.30" x2="156.60" y2="910.80" stroke="#333" stroke-width="0.9" />
<line x1="158.18" y1="907.30" x2="158.18" y2="910.80" stroke="#333" stroke-width="0.9" />
<line x1="159.60" y1="907.30" x2="159.60" y2="913.30" stroke="#333" stroke-width="0.9" />
<line x1="168.93" y1="907.30" x2="168.93" y2="910.80" stroke="#333" stroke-width="0.9" />
<line x1="174.39" y1="907.30" x2="174.39" y2="910.80" stroke="#333" stroke-width="0.9" />
<text class="ns" x="61.10" y="922.30" font-family="Liberation Sans" font-size="7" letter-spacing="-0.3" fill="#222">10<tspan dy="-3.5" font-size="6.5">2</tspan></text>
<text class="ns" x="92.10" y="922.30" font-family="Liberation Sans" font-size="7" letter-spacing="-0.3" fill="#222">10<tspan dy="-3.5" font-size="6.5">3</tspan></text>
<text class="ns" x="123.10" y="922.30" font-family="Liberation Sans" font-size="7" letter-spacing="-0.3" fill="#222">10<tspan dy="-3.5" font-size="6.5">4</tspan></text>
<text class="ns" x="154.10" y="922.30" font-family="Liberation Sans" font-size="7" letter-spacing="-0.3" fill="#222">10<tspan dy="-3.5" font-size="6.5">5</tspan></text>
<rect x="68.60" y="824.60" width="51.90" height="51.90" fill="none" stroke="#444" stroke-width="1.3"/>
<text x="94.50" y="820.50" font-family="Liberation Serif" font-weight="bold" font-size="15.2" text-anchor="middle" fill="#111" >0.6%</text>
<text x="112.00" y="761.50" font-family="Liberation Serif" font-weight="bold" font-size="13.6" text-anchor="middle" fill="#111" class="lt">Primary PMF</text>
<text x="112.00" y="777.70" font-family="Liberation Serif" font-weight="bold" font-size="13.6" text-anchor="middle" fill="#111" class="lt">CD34<tspan dy="-5" font-size="9">+</tspan><tspan dy="5"> cells</tspan></text>
<rect x="114.7" y="904.5" width="1" height="1" fill="#000" opacity="0.6"/>
<rect x="107.4" y="892.3" width="1" height="1" fill="#000" opacity="0.6"/>
<rect x="100.4" y="896.7" width="1" height="1" fill="#000" opacity="0.6"/>
<rect x="100.9" y="888.6" width="1" height="1" fill="#000" opacity="0.6"/>
<rect x="108.2" y="897.2" width="1" height="1" fill="#000" opacity="0.6"/>
<rect x="110.3" y="891.5" width="1" height="1" fill="#000" opacity="0.6"/>
<rect x="107.0" y="896.1" width="1" height="1" fill="#000" opacity="0.6"/>
<rect x="98.0" y="899.5" width="1" height="1" fill="#000" opacity="0.6"/>
<rect x="108.2" y="895.7" width="1" height="1" fill="#000" opacity="0.6"/>
<rect x="114.4" y="897.6" width="1" height="1" fill="#000" opacity="0.6"/>
<rect x="112.5" y="894.5" width="1" height="1" fill="#000" opacity="0.6"/>
<rect x="108.3" y="902.1" width="1" height="1" fill="#000" opacity="0.6"/>
<rect x="111.2" y="897.2" width="1" height="1" fill="#000" opacity="0.6"/>
<rect x="100.5" y="898.9" width="1" height="1" fill="#000" opacity="0.6"/>
<rect x="107.5" y="900.5" width="1" height="1" fill="#000" opacity="0.6"/>
<rect x="108.3" y="902.5" width="1" height="1" fill="#000" opacity="0.6"/>
<rect x="106.7" y="897.6" width="1" height="1" fill="#000" opacity="0.6"/>
<rect x="111.0" y="890.5" width="1" height="1" fill="#000" opacity="0.6"/>
<rect x="104.6" y="893.7" width="1" height="1" fill="#000" opacity="0.6"/>
<rect x="118.9" y="896.0" width="1" height="1" fill="#000" opacity="0.6"/>
<rect x="110.9" y="899.9" width="1" height="1" fill="#000" opacity="0.6"/>
<rect x="105.3" y="888.0" width="1" height="1" fill="#000" opacity="0.6"/>
<rect x="112.8" y="894.3" width="1" height="1" fill="#000" opacity="0.6"/>
<rect x="111.3" y="889.3" width="1" height="1" fill="#000" opacity="0.6"/>
<rect x="104.4" y="903.4" width="1" height="1" fill="#000" opacity="0.6"/>
<rect x="115.6" y="889.3" width="1" height="1" fill="#000" opacity="0.6"/>
<rect x="99.0" y="896.3" width="1" height="1" fill="#000" opacity="0.6"/>
<rect x="111.4" y="897.4" width="1" height="1" fill="#000" opacity="0.6"/>
<rect x="108.8" y="891.1" width="1" height="1" fill="#000" opacity="0.6"/>
<rect x="110.5" y="902.6" width="1" height="1" fill="#000" opacity="0.6"/>
<rect x="104.4" y="888.6" width="1" height="1" fill="#000" opacity="0.6"/>
<rect x="102.4" y="900.7" width="1" height="1" fill="#000" opacity="0.6"/>
<rect x="96.6" y="896.0" width="1" height="1" fill="#000" opacity="0.6"/>
<rect x="101.1" y="895.8" width="1" height="1" fill="#000" opacity="0.6"/>
<rect x="105.5" y="896.6" width="1" height="1" fill="#000" opacity="0.6"/>
<rect x="116.0" y="898.8" width="1" height="1" fill="#000" opacity="0.6"/>
<rect x="115.0" y="895.7" width="1" height="1" fill="#000" opacity="0.6"/>
<rect x="104.1" y="898.6" width="1" height="1" fill="#000" opacity="0.6"/>
<rect x="90.0" y="896.3" width="1" height="1" fill="#000" opacity="0.6"/>
<rect x="108.0" y="889.7" width="1" height="1" fill="#000" opacity="0.6"/>
<rect x="109.8" y="893.4" width="1" height="1" fill="#000" opacity="0.6"/>
<rect x="92.2" y="895.3" width="1" height="1" fill="#000" opacity="0.6"/>
<rect x="101.1" y="893.6" width="1" height="1" fill="#000" opacity="0.6"/>
<rect x="106.1" y="903.4" width="1" height="1" fill="#000" opacity="0.6"/>
<rect x="107.6" y="896.3" width="1" height="1" fill="#000" opacity="0.6"/>
<rect x="109.3" y="886.5" width="1" height="1" fill="#000" opacity="0.6"/>
<rect x="114.4" y="890.6" width="1" height="1" fill="#000" opacity="0.6"/>
<rect x="109.6" y="890.3" width="1" height="1" fill="#000" opacity="0.6"/>
<rect x="101.1" y="894.3" width="1" height="1" fill="#000" opacity="0.6"/>
<rect x="118.4" y="900.3" width="1" height="1" fill="#000" opacity="0.6"/>
<rect x="103.4" y="894.9" width="1" height="1" fill="#000" opacity="0.6"/>
<rect x="100.1" y="896.3" width="1" height="1" fill="#000" opacity="0.6"/>
<rect x="103.6" y="900.5" width="1" height="1" fill="#000" opacity="0.6"/>
<rect x="98.9" y="894.7" width="1" height="1" fill="#000" opacity="0.6"/>
<rect x="101.9" y="892.5" width="1" height="1" fill="#000" opacity="0.6"/>
<rect x="111.3" y="897.2" width="1" height="1" fill="#000" opacity="0.6"/>
<rect x="110.5" y="903.0" width="1" height="1" fill="#000" opacity="0.6"/>
<rect x="113.9" y="889.0" width="1" height="1" fill="#000" opacity="0.6"/>
<rect x="110.2" y="886.8" width="1" height="1" fill="#000" opacity="0.6"/>
<rect x="105.8" y="894.5" width="1" height="1" fill="#000" opacity="0.6"/>
<rect x="108.0" y="896.6" width="1" height="1" fill="#000" opacity="0.6"/>
<rect x="107.2" y="892.3" width="1" height="1" fill="#000" opacity="0.6"/>
<rect x="113.5" y="901.4" width="1" height="1" fill="#000" opacity="0.6"/>
<rect x="105.7" y="898.2" width="1" height="1" fill="#000" opacity="0.6"/>
<rect x="111.0" y="902.2" width="1" height="1" fill="#000" opacity="0.6"/>
<rect x="109.4" y="900.3" width="1" height="1" fill="#000" opacity="0.6"/>
<rect x="105.4" y="890.6" width="1" height="1" fill="#000" opacity="0.6"/>
<rect x="104.0" y="902.1" width="1" height="1" fill="#000" opacity="0.6"/>
<rect x="112.9" y="897.3" width="1" height="1" fill="#000" opacity="0.6"/>
<rect x="103.6" y="898.2" width="1" height="1" fill="#000" opacity="0.6"/>
<rect x="117.0" y="903.9" width="1" height="1" fill="#000" opacity="0.6"/>
<rect x="102.9" y="896.3" width="1" height="1" fill="#000" opacity="0.6"/>
<rect x="98.3" y="890.3" width="1" height="1" fill="#000" opacity="0.6"/>
<rect x="108.1" y="896.6" width="1" height="1" fill="#000" opacity="0.6"/>
<rect x="112.8" y="903.5" width="1" height="1" fill="#000" opacity="0.6"/>
<rect x="112.0" y="903.8" width="1" height="1" fill="#000" opacity="0.6"/>
<rect x="103.7" y="890.3" width="1" height="1" fill="#000" opacity="0.6"/>
<rect x="109.1" y="890.2" width="1" height="1" fill="#000" opacity="0.6"/>
<rect x="108.5" y="904.3" width="1" height="1" fill="#000" opacity="0.6"/>
<rect x="100.8" y="900.9" width="1" height="1" fill="#000" opacity="0.6"/>
<rect x="103.3" y="903.5" width="1" height="1" fill="#000" opacity="0.6"/>
<rect x="111.7" y="898.2" width="1" height="1" fill="#000" opacity="0.6"/>
<rect x="119.0" y="894.3" width="1" height="1" fill="#000" opacity="0.6"/>
<rect x="106.8" y="890.8" width="1" height="1" fill="#000" opacity="0.6"/>
<rect x="107.0" y="897.2" width="1" height="1" fill="#000" opacity="0.6"/>
<rect x="108.2" y="895.4" width="1" height="1" fill="#000" opacity="0.6"/>
<rect x="113.5" y="883.7" width="1" height="1" fill="#000" opacity="0.6"/>
<rect x="103.7" y="895.1" width="1" height="1" fill="#000" opacity="0.6"/>
<rect x="117.9" y="885.5" width="1" height="1" fill="#000" opacity="0.6"/>
<rect x="105.0" y="890.2" width="1" height="1" fill="#000" opacity="0.6"/>
<rect x="103.0" y="900.0" width="1" height="1" fill="#000" opacity="0.6"/>
<rect x="109.5" y="904.4" width="1" height="1" fill="#000" opacity="0.6"/>
<rect x="103.4" y="898.0" width="1" height="1" fill="#000" opacity="0.6"/>
<rect x="114.0" y="901.5" width="1" height="1" fill="#000" opacity="0.6"/>
<rect x="105.0" y="902.7" width="1" height="1" fill="#000" opacity="0.6"/>
<rect x="107.9" y="895.9" width="1" height="1" fill="#000" opacity="0.6"/>
<rect x="108.6" y="901.2" width="1" height="1" fill="#000" opacity="0.6"/>
<rect x="117.4" y="895.7" width="1" height="1" fill="#000" opacity="0.6"/>
<rect x="104.8" y="899.7" width="1" height="1" fill="#000" opacity="0.6"/>
<rect x="101.8" y="887.2" width="1" height="1" fill="#000" opacity="0.6"/>
<rect x="112.0" y="894.4" width="1" height="1" fill="#000" opacity="0.6"/>
<rect x="113.8" y="890.9" width="1" height="1" fill="#000" opacity="0.6"/>
<rect x="89.6" y="898.1" width="1" height="1" fill="#000" opacity="0.6"/>
<rect x="107.9" y="905.3" width="1" height="1" fill="#000" opacity="0.6"/>
<rect x="110.2" y="898.2" width="1" height="1" fill="#000" opacity="0.6"/>
<rect x="110.5" y="894.5" width="1" height="1" fill="#000" opacity="0.6"/>
<rect x="107.5" y="889.1" width="1" height="1" fill="#000" opacity="0.6"/>
<rect x="110.1" y="892.1" width="1" height="1" fill="#000" opacity="0.6"/>
<rect x="104.3" y="900.3" width="1" height="1" fill="#000" opacity="0.6"/>
<rect x="112.5" y="891.0" width="1" height="1" fill="#000" opacity="0.6"/>
<rect x="119.0" y="893.2" width="1" height="1" fill="#000" opacity="0.6"/>
<rect x="112.0" y="901.7" width="1" height="1" fill="#000" opacity="0.6"/>
<rect x="108.3" y="897.4" width="1" height="1" fill="#000" opacity="0.6"/>
<rect x="117.8" y="901.4" width="1" height="1" fill="#000" opacity="0.6"/>
<rect x="109.7" y="886.5" width="1" height="1" fill="#000" opacity="0.6"/>
<rect x="102.5" y="902.9" width="1" height="1" fill="#000" opacity="0.6"/>
<rect x="108.2" y="891.2" width="1" height="1" fill="#000" opacity="0.6"/>
<rect x="103.1" y="894.8" width="1" height="1" fill="#000" opacity="0.6"/>
<rect x="111.1" y="898.6" width="1" height="1" fill="#000" opacity="0.6"/>
<rect x="113.0" y="892.0" width="1" height="1" fill="#000" opacity="0.6"/>
<rect x="112.9" y="893.7" width="1" height="1" fill="#000" opacity="0.6"/>
<rect x="105.2" y="906.0" width="1" height="1" fill="#000" opacity="0.6"/>
<rect x="107.4" y="895.7" width="1" height="1" fill="#000" opacity="0.6"/>
<rect x="105.7" y="894.4" width="1" height="1" fill="#000" opacity="0.6"/>
<rect x="116.4" y="904.1" width="1" height="1" fill="#000" opacity="0.6"/>
<rect x="111.3" y="897.5" width="1" height="1" fill="#000" opacity="0.6"/>
<rect x="113.3" y="896.1" width="1" height="1" fill="#000" opacity="0.6"/>
<rect x="109.7" y="898.7" width="1" height="1" fill="#000" opacity="0.6"/>
<rect x="107.5" y="905.6" width="1" height="1" fill="#000" opacity="0.6"/>
<rect x="117.5" y="903.8" width="1" height="1" fill="#000" opacity="0.6"/>
<rect x="111.2" y="894.0" width="1" height="1" fill="#000" opacity="0.6"/>
<rect x="106.9" y="902.8" width="1" height="1" fill="#000" opacity="0.6"/>
<rect x="114.0" y="901.2" width="1" height="1" fill="#000" opacity="0.6"/>
<rect x="107.8" y="896.7" width="1" height="1" fill="#000" opacity="0.6"/>
<rect x="112.0" y="896.0" width="1" height="1" fill="#000" opacity="0.6"/>
<rect x="101.6" y="893.1" width="1" height="1" fill="#000" opacity="0.6"/>
<rect x="106.2" y="898.3" width="1" height="1" fill="#000" opacity="0.6"/>
<rect x="120.6" y="889.0" width="1" height="1" fill="#000" opacity="0.6"/>
<rect x="109.9" y="896.0" width="1" height="1" fill="#000" opacity="0.6"/>
<rect x="108.8" y="903.9" width="1" height="1" fill="#000" opacity="0.6"/>
<rect x="114.4" y="895.6" width="1" height="1" fill="#000" opacity="0.6"/>
<rect x="103.7" y="889.0" width="1" height="1" fill="#000" opacity="0.6"/>
<rect x="106.6" y="903.4" width="1" height="1" fill="#000" opacity="0.6"/>
<rect x="105.4" y="900.4" width="1" height="1" fill="#000" opacity="0.6"/>
<rect x="111.2" y="898.7" width="1" height="1" fill="#000" opacity="0.6"/>
<rect x="113.5" y="895.9" width="1" height="1" fill="#000" opacity="0.6"/>
<rect x="102.0" y="890.1" width="1" height="1" fill="#000" opacity="0.6"/>
<rect x="112.6" y="894.5" width="1" height="1" fill="#000" opacity="0.6"/>
<rect x="105.1" y="901.1" width="1" height="1" fill="#000" opacity="0.6"/>
<rect x="102.3" y="906.2" width="1" height="1" fill="#000" opacity="0.6"/>
<rect x="111.0" y="893.6" width="1" height="1" fill="#000" opacity="0.6"/>
<rect x="103.2" y="902.4" width="1" height="1" fill="#000" opacity="0.6"/>
<rect x="99.9" y="893.0" width="1" height="1" fill="#000" opacity="0.6"/>
<rect x="107.0" y="897.6" width="1" height="1" fill="#000" opacity="0.6"/>
<rect x="107.1" y="898.6" width="1" height="1" fill="#000" opacity="0.6"/>
<rect x="104.8" y="895.8" width="1" height="1" fill="#000" opacity="0.6"/>
<rect x="114.6" y="900.1" width="1" height="1" fill="#000" opacity="0.6"/>
<rect x="104.3" y="905.9" width="1" height="1" fill="#000" opacity="0.6"/>
<rect x="95.1" y="897.0" width="1" height="1" fill="#000" opacity="0.6"/>
<rect x="111.0" y="901.8" width="1" height="1" fill="#000" opacity="0.6"/>
<rect x="107.7" y="894.4" width="1" height="1" fill="#000" opacity="0.6"/>
<rect x="110.5" y="895.4" width="1" height="1" fill="#000" opacity="0.6"/>
<rect x="109.8" y="880.8" width="1" height="1" fill="#000" opacity="0.6"/>
<rect x="109.3" y="892.2" width="1" height="1" fill="#000" opacity="0.6"/>
<rect x="112.6" y="900.6" width="1" height="1" fill="#000" opacity="0.6"/>
<rect x="111.4" y="894.3" width="1" height="1" fill="#000" opacity="0.6"/>
<rect x="109.6" y="894.6" width="1" height="1" fill="#000" opacity="0.6"/>
<rect x="108.3" y="895.8" width="1" height="1" fill="#000" opacity="0.6"/>
<rect x="111.3" y="885.2" width="1" height="1" fill="#000" opacity="0.6"/>
<rect x="112.4" y="888.8" width="1" height="1" fill="#000" opacity="0.6"/>
<rect x="105.6" y="893.3" width="1" height="1" fill="#000" opacity="0.6"/>
<rect x="103.8" y="897.8" width="1" height="1" fill="#000" opacity="0.6"/>
<rect x="105.0" y="888.5" width="1" height="1" fill="#000" opacity="0.6"/>
<rect x="107.0" y="898.5" width="1" height="1" fill="#000" opacity="0.6"/>
<rect x="117.6" y="894.2" width="1" height="1" fill="#000" opacity="0.6"/>
<rect x="99.9" y="894.4" width="1" height="1" fill="#000" opacity="0.6"/>
<rect x="110.9" y="891.6" width="1" height="1" fill="#000" opacity="0.6"/>
<rect x="102.7" y="899.5" width="1" height="1" fill="#000" opacity="0.6"/>
<rect x="106.9" y="897.7" width="1" height="1" fill="#000" opacity="0.6"/>
<rect x="103.2" y="892.0" width="1" height="1" fill="#000" opacity="0.6"/>
<rect x="105.1" y="895.7" width="1" height="1" fill="#000" opacity="0.6"/>
<rect x="105.0" y="898.9" width="1" height="1" fill="#000" opacity="0.6"/>
<rect x="110.3" y="899.5" width="1" height="1" fill="#000" opacity="0.6"/>
<rect x="109.9" y="891.6" width="1" height="1" fill="#000" opacity="0.6"/>
<rect x="100.3" y="900.9" width="1" height="1" fill="#000" opacity="0.6"/>
<rect x="107.1" y="897.2" width="1" height="1" fill="#000" opacity="0.6"/>
<rect x="100.0" y="895.3" width="1" height="1" fill="#000" opacity="0.6"/>
<rect x="103.2" y="891.7" width="1" height="1" fill="#000" opacity="0.6"/>
<rect x="103.2" y="888.3" width="1" height="1" fill="#000" opacity="0.6"/>
<rect x="107.5" y="902.9" width="1" height="1" fill="#000" opacity="0.6"/>
<rect x="102.8" y="897.0" width="1" height="1" fill="#000" opacity="0.6"/>
<rect x="100.4" y="900.2" width="1" height="1" fill="#000" opacity="0.6"/>
<rect x="118.2" y="889.7" width="1" height="1" fill="#000" opacity="0.6"/>
<rect x="105.6" y="904.3" width="1" height="1" fill="#000" opacity="0.6"/>
<rect x="109.2" y="897.1" width="1" height="1" fill="#000" opacity="0.6"/>
<rect x="94.7" y="895.7" width="1" height="1" fill="#000" opacity="0.6"/>
<rect x="112.5" y="904.4" width="1" height="1" fill="#000" opacity="0.6"/>
<rect x="110.8" y="893.3" width="1" height="1" fill="#000" opacity="0.6"/>
<rect x="102.9" y="886.5" width="1" height="1" fill="#000" opacity="0.6"/>
<rect x="100.5" y="902.7" width="1" height="1" fill="#000" opacity="0.6"/>
<rect x="106.3" y="889.1" width="1" height="1" fill="#000" opacity="0.6"/>
<rect x="114.9" y="887.3" width="1" height="1" fill="#000" opacity="0.6"/>
<rect x="114.6" y="894.7" width="1" height="1" fill="#000" opacity="0.6"/>
<rect x="109.0" y="900.2" width="1" height="1" fill="#000" opacity="0.6"/>
<rect x="108.6" y="903.5" width="1" height="1" fill="#000" opacity="0.6"/>
<rect x="107.1" y="894.7" width="1" height="1" fill="#000" opacity="0.6"/>
<rect x="103.0" y="888.6" width="1" height="1" fill="#000" opacity="0.6"/>
<rect x="102.8" y="901.9" width="1" height="1" fill="#000" opacity="0.6"/>
<rect x="112.0" y="904.2" width="1" height="1" fill="#000" opacity="0.6"/>
<rect x="123.4" y="900.4" width="1" height="1" fill="#000" opacity="0.6"/>
<rect x="110.0" y="889.3" width="1" height="1" fill="#000" opacity="0.6"/>
<rect x="110.2" y="895.7" width="1" height="1" fill="#000" opacity="0.6"/>
<rect x="108.9" y="886.1" width="1" height="1" fill="#000" opacity="0.6"/>
<rect x="102.0" y="889.3" width="1" height="1" fill="#000" opacity="0.6"/>
<rect x="94.2" y="900.7" width="1" height="1" fill="#000" opacity="0.6"/>
<rect x="112.8" y="895.5" width="1" height="1" fill="#000" opacity="0.6"/>
<rect x="109.1" y="891.0" width="1" height="1" fill="#000" opacity="0.6"/>
<rect x="109.7" y="900.7" width="1" height="1" fill="#000" opacity="0.6"/>
<rect x="116.2" y="905.1" width="1" height="1" fill="#000" opacity="0.6"/>
<rect x="109.9" y="895.8" width="1" height="1" fill="#000" opacity="0.6"/>
<rect x="102.0" y="893.2" width="1" height="1" fill="#000" opacity="0.6"/>
<rect x="110.7" y="899.6" width="1" height="1" fill="#000" opacity="0.6"/>
<rect x="107.1" y="905.7" width="1" height="1" fill="#000" opacity="0.6"/>
<rect x="110.9" y="896.6" width="1" height="1" fill="#000" opacity="0.6"/>
<rect x="105.9" y="896.9" width="1" height="1" fill="#000" opacity="0.6"/>
<rect x="101.3" y="891.1" width="1" height="1" fill="#000" opacity="0.6"/>
<rect x="109.1" y="893.3" width="1" height="1" fill="#000" opacity="0.6"/>
<rect x="105.4" y="903.2" width="1" height="1" fill="#000" opacity="0.6"/>
<rect x="105.8" y="903.7" width="1" height="1" fill="#000" opacity="0.6"/>
<rect x="106.9" y="904.8" width="1" height="1" fill="#000" opacity="0.6"/>
<rect x="109.8" y="886.8" width="1" height="1" fill="#000" opacity="0.6"/>
<rect x="119.3" y="898.0" width="1" height="1" fill="#000" opacity="0.45"/>
<rect x="74.5" y="899.6" width="1" height="1" fill="#000" opacity="0.45"/>
<rect x="104.2" y="892.5" width="1" height="1" fill="#000" opacity="0.45"/>
<rect x="93.5" y="901.7" width="1" height="1" fill="#000" opacity="0.45"/>
<rect x="121.8" y="904.7" width="1" height="1" fill="#000" opacity="0.45"/>
<rect x="119.1" y="904.6" width="1" height="1" fill="#000" opacity="0.45"/>
<rect x="67.2" y="895.4" width="1" height="1" fill="#000" opacity="0.45"/>
<rect x="104.6" y="885.6" width="1" height="1" fill="#000" opacity="0.45"/>
<rect x="112.8" y="903.5" width="1" height="1" fill="#000" opacity="0.45"/>
<rect x="91.1" y="897.1" width="1" height="1" fill="#000" opacity="0.45"/>
<rect x="88.8" y="898.9" width="1" height="1" fill="#000" opacity="0.45"/>
<rect x="101.4" y="899.0" width="1" height="1" fill="#000" opacity="0.45"/>
<rect x="87.7" y="900.9" width="1" height="1" fill="#000" opacity="0.45"/>
<rect x="97.2" y="903.8" width="1" height="1" fill="#000" opacity="0.45"/>
<rect x="106.4" y="891.6" width="1" height="1" fill="#000" opacity="0.45"/>
<rect x="81.8" y="899.3" width="1" height="1" fill="#000" opacity="0.45"/>
<rect x="95.2" y="901.3" width="1" height="1" fill="#000" opacity="0.45"/>
<rect x="113.3" y="899.1" width="1" height="1" fill="#000" opacity="0.45"/>
<rect x="78.4" y="893.0" width="1" height="1" fill="#000" opacity="0.45"/>
<rect x="110.0" y="893.7" width="1" height="1" fill="#000" opacity="0.45"/>
<rect x="117.5" y="898.5" width="1" height="1" fill="#000" opacity="0.45"/>
<rect x="109.3" y="894.6" width="1" height="1" fill="#000" opacity="0.45"/>
<rect x="100.6" y="884.2" width="1" height="1" fill="#000" opacity="0.45"/>
<rect x="99.1" y="901.9" width="1" height="1" fill="#000" opacity="0.45"/>
<rect x="89.4" y="894.8" width="1" height="1" fill="#000" opacity="0.45"/>
<rect x="101.3" y="899.3" width="1" height="1" fill="#000" opacity="0.45"/>
<rect x="90.7" y="902.4" width="1" height="1" fill="#000" opacity="0.45"/>
<rect x="79.0" y="904.6" width="1" height="1" fill="#000" opacity="0.45"/>
<rect x="82.4" y="894.9" width="1" height="1" fill="#000" opacity="0.45"/>
<rect x="120.6" y="894.0" width="1" height="1" fill="#000" opacity="0.45"/>
<rect x="78.9" y="899.4" width="1" height="1" fill="#000" opacity="0.45"/>
<rect x="89.1" y="893.4" width="1" height="1" fill="#000" opacity="0.45"/>
<rect x="92.2" y="895.3" width="1" height="1" fill="#000" opacity="0.45"/>
<rect x="88.4" y="893.9" width="1" height="1" fill="#000" opacity="0.45"/>
<rect x="124.6" y="895.6" width="1" height="1" fill="#000" opacity="0.45"/>
<rect x="115.6" y="892.0" width="1" height="1" fill="#000" opacity="0.45"/>
<rect x="109.6" y="892.7" width="1" height="1" fill="#000" opacity="0.45"/>
<rect x="95.6" y="902.2" width="1" height="1" fill="#000" opacity="0.45"/>
<rect x="94.6" y="889.2" width="1" height="1" fill="#000" opacity="0.45"/>
<rect x="94.3" y="898.2" width="1" height="1" fill="#000" opacity="0.45"/>
<rect x="110.0" y="894.0" width="1" height="1" fill="#000" opacity="0.45"/>
<rect x="97.8" y="899.3" width="1" height="1" fill="#000" opacity="0.45"/>
<rect x="78.9" y="898.5" width="1" height="1" fill="#000" opacity="0.45"/>
<rect x="90.4" y="901.2" width="1" height="1" fill="#000" opacity="0.45"/>
<rect x="100.5" y="898.2" width="1" height="1" fill="#000" opacity="0.45"/>
<rect x="68.2" y="898.5" width="1" height="1" fill="#000" opacity="0.45"/>
<rect x="96.8" y="894.3" width="1" height="1" fill="#000" opacity="0.45"/>
<rect x="94.9" y="892.7" width="1" height="1" fill="#000" opacity="0.45"/>
<rect x="104.4" y="902.3" width="1" height="1" fill="#000" opacity="0.45"/>
<rect x="110.4" y="896.4" width="1" height="1" fill="#000" opacity="0.45"/>
<rect x="125.5" y="903.3" width="1" height="1" fill="#000" opacity="0.45"/>
<rect x="88.7" y="898.3" width="1" height="1" fill="#000" opacity="0.45"/>
<rect x="79.2" y="898.4" width="1" height="1" fill="#000" opacity="0.45"/>
<rect x="112.0" y="905.3" width="1" height="1" fill="#000" opacity="0.45"/>
<rect x="96.1" y="890.1" width="1" height="1" fill="#000" opacity="0.45"/>
<rect x="99.6" y="905.8" width="1" height="1" fill="#000" opacity="0.45"/>
<rect x="104.0" y="905.4" width="1" height="1" fill="#000" opacity="0.45"/>
<rect x="110.4" y="895.7" width="1" height="1" fill="#000" opacity="0.45"/>
<rect x="84.9" y="880.7" width="1" height="1" fill="#000" opacity="0.4"/>
<rect x="100.6" y="892.0" width="1" height="1" fill="#000" opacity="0.4"/>
<rect x="84.2" y="887.0" width="1" height="1" fill="#000" opacity="0.4"/>
<rect x="78.8" y="893.5" width="1" height="1" fill="#000" opacity="0.4"/>
<rect x="88.9" y="886.8" width="1" height="1" fill="#000" opacity="0.4"/>
<rect x="85.5" y="887.9" width="1" height="1" fill="#000" opacity="0.4"/>
<rect x="94.4" y="889.1" width="1" height="1" fill="#000" opacity="0.4"/>
<rect x="96.3" y="885.8" width="1" height="1" fill="#000" opacity="0.4"/>
<rect x="84.3" y="887.6" width="1" height="1" fill="#000" opacity="0.4"/>
<rect x="84.8" y="889.5" width="1" height="1" fill="#000" opacity="0.4"/>
<rect x="94.2" y="896.0" width="1" height="1" fill="#000" opacity="0.4"/>
<rect x="81.6" y="896.4" width="1" height="1" fill="#000" opacity="0.4"/>
<rect x="88.6" y="897.9" width="1" height="1" fill="#000" opacity="0.4"/>
<rect x="87.0" y="885.8" width="1" height="1" fill="#000" opacity="0.4"/>
<rect x="92.7" y="893.1" width="1" height="1" fill="#000" opacity="0.4"/>
<rect x="85.2" y="890.1" width="1" height="1" fill="#000" opacity="0.4"/>
<rect x="88.8" y="891.6" width="1" height="1" fill="#000" opacity="0.4"/>
<rect x="77.7" y="884.0" width="1" height="1" fill="#000" opacity="0.4"/>
<rect x="88.3" y="891.3" width="1" height="1" fill="#000" opacity="0.4"/>
<rect x="84.9" y="881.2" width="1" height="1" fill="#000" opacity="0.4"/>
<rect x="96.1" y="888.5" width="1" height="1" fill="#000" opacity="0.4"/>
<rect x="81.7" y="898.0" width="1" height="1" fill="#000" opacity="0.4"/>
<rect x="94.8" y="895.2" width="1" height="1" fill="#000" opacity="0.4"/>
<rect x="93.0" y="892.8" width="1" height="1" fill="#000" opacity="0.4"/>
<rect x="82.2" y="890.2" width="1" height="1" fill="#000" opacity="0.4"/>
<rect x="78.0" y="854.0" width="1.2" height="1.2" fill="#666"/>
<rect x="80.5" y="867.0" width="1.2" height="1.2" fill="#666"/>
<rect x="84.5" y="872.5" width="1.2" height="1.2" fill="#666"/>
<rect x="224.10" y="800.60" width="122.30" height="108.40" fill="none" stroke="#444" stroke-width="1.3"/>
<line x1="220.60" y1="906.19" x2="224.10" y2="906.19" stroke="#333" stroke-width="0.9" />
<line x1="220.60" y1="902.83" x2="224.10" y2="902.83" stroke="#333" stroke-width="0.9" />
<line x1="220.60" y1="900.23" x2="224.10" y2="900.23" stroke="#333" stroke-width="0.9" />
<line x1="220.60" y1="898.11" x2="224.10" y2="898.11" stroke="#333" stroke-width="0.9" />
<line x1="220.60" y1="896.31" x2="224.10" y2="896.31" stroke="#333" stroke-width="0.9" />
<line x1="220.60" y1="894.75" x2="224.10" y2="894.75" stroke="#333" stroke-width="0.9" />
<line x1="220.60" y1="893.38" x2="224.10" y2="893.38" stroke="#333" stroke-width="0.9" />
<line x1="218.10" y1="892.15" x2="224.10" y2="892.15" stroke="#333" stroke-width="0.9" />
<line x1="220.60" y1="884.07" x2="224.10" y2="884.07" stroke="#333" stroke-width="0.9" />
<line x1="220.60" y1="879.34" x2="224.10" y2="879.34" stroke="#333" stroke-width="0.9" />
<line x1="220.60" y1="875.98" x2="224.10" y2="875.98" stroke="#333" stroke-width="0.9" />
<line x1="220.60" y1="873.38" x2="224.10" y2="873.38" stroke="#333" stroke-width="0.9" />
<line x1="220.60" y1="871.26" x2="224.10" y2="871.26" stroke="#333" stroke-width="0.9" />
<line x1="220.60" y1="869.46" x2="224.10" y2="869.46" stroke="#333" stroke-width="0.9" />
<line x1="220.60" y1="867.90" x2="224.10" y2="867.90" stroke="#333" stroke-width="0.9" />
<line x1="220.60" y1="866.53" x2="224.10" y2="866.53" stroke="#333" stroke-width="0.9" />
<line x1="218.10" y1="865.30" x2="224.10" y2="865.30" stroke="#333" stroke-width="0.9" />
<line x1="220.60" y1="857.22" x2="224.10" y2="857.22" stroke="#333" stroke-width="0.9" />
<line x1="220.60" y1="852.49" x2="224.10" y2="852.49" stroke="#333" stroke-width="0.9" />
<line x1="220.60" y1="849.13" x2="224.10" y2="849.13" stroke="#333" stroke-width="0.9" />
<line x1="220.60" y1="846.53" x2="224.10" y2="846.53" stroke="#333" stroke-width="0.9" />
<line x1="220.60" y1="844.41" x2="224.10" y2="844.41" stroke="#333" stroke-width="0.9" />
<line x1="220.60" y1="842.61" x2="224.10" y2="842.61" stroke="#333" stroke-width="0.9" />
<line x1="220.60" y1="841.05" x2="224.10" y2="841.05" stroke="#333" stroke-width="0.9" />
<line x1="220.60" y1="839.68" x2="224.10" y2="839.68" stroke="#333" stroke-width="0.9" />
<line x1="218.10" y1="838.45" x2="224.10" y2="838.45" stroke="#333" stroke-width="0.9" />
<line x1="220.60" y1="830.37" x2="224.10" y2="830.37" stroke="#333" stroke-width="0.9" />
<line x1="220.60" y1="825.64" x2="224.10" y2="825.64" stroke="#333" stroke-width="0.9" />
<line x1="220.60" y1="822.28" x2="224.10" y2="822.28" stroke="#333" stroke-width="0.9" />
<line x1="220.60" y1="819.68" x2="224.10" y2="819.68" stroke="#333" stroke-width="0.9" />
<line x1="220.60" y1="817.56" x2="224.10" y2="817.56" stroke="#333" stroke-width="0.9" />
<line x1="220.60" y1="815.76" x2="224.10" y2="815.76" stroke="#333" stroke-width="0.9" />
<line x1="220.60" y1="814.20" x2="224.10" y2="814.20" stroke="#333" stroke-width="0.9" />
<line x1="220.60" y1="812.83" x2="224.10" y2="812.83" stroke="#333" stroke-width="0.9" />
<line x1="218.10" y1="811.60" x2="224.10" y2="811.60" stroke="#333" stroke-width="0.9" />
<line x1="220.60" y1="803.52" x2="224.10" y2="803.52" stroke="#333" stroke-width="0.9" />
<text class="ns" transform="translate(216.30,897.45) rotate(-90)" font-family="Liberation Sans" font-size="7" letter-spacing="-0.3" fill="#222">10<tspan dy="-3.5" font-size="6.5">2</tspan></text>
<text class="ns" transform="translate(216.30,870.60) rotate(-90)" font-family="Liberation Sans" font-size="7" letter-spacing="-0.3" fill="#222">10<tspan dy="-3.5" font-size="6.5">3</tspan></text>
<text class="ns" transform="translate(216.30,843.75) rotate(-90)" font-family="Liberation Sans" font-size="7" letter-spacing="-0.3" fill="#222">10<tspan dy="-3.5" font-size="6.5">4</tspan></text>
<text class="ns" transform="translate(216.30,816.90) rotate(-90)" font-family="Liberation Sans" font-size="7" letter-spacing="-0.3" fill="#222">10<tspan dy="-3.5" font-size="6.5">5</tspan></text>
<line x1="228.32" y1="909.00" x2="228.32" y2="912.50" stroke="#333" stroke-width="0.9" />
<line x1="231.29" y1="909.00" x2="231.29" y2="912.50" stroke="#333" stroke-width="0.9" />
<line x1="233.71" y1="909.00" x2="233.71" y2="912.50" stroke="#333" stroke-width="0.9" />
<line x1="235.76" y1="909.00" x2="235.76" y2="912.50" stroke="#333" stroke-width="0.9" />
<line x1="237.53" y1="909.00" x2="237.53" y2="912.50" stroke="#333" stroke-width="0.9" />
<line x1="239.10" y1="909.00" x2="239.10" y2="912.50" stroke="#333" stroke-width="0.9" />
<line x1="240.50" y1="909.00" x2="240.50" y2="915.00" stroke="#333" stroke-width="0.9" />
<line x1="249.71" y1="909.00" x2="249.71" y2="912.50" stroke="#333" stroke-width="0.9" />
<line x1="255.10" y1="909.00" x2="255.10" y2="912.50" stroke="#333" stroke-width="0.9" />
<line x1="258.92" y1="909.00" x2="258.92" y2="912.50" stroke="#333" stroke-width="0.9" />
<line x1="261.89" y1="909.00" x2="261.89" y2="912.50" stroke="#333" stroke-width="0.9" />
<line x1="264.31" y1="909.00" x2="264.31" y2="912.50" stroke="#333" stroke-width="0.9" />
<line x1="266.36" y1="909.00" x2="266.36" y2="912.50" stroke="#333" stroke-width="0.9" />
<line x1="268.13" y1="909.00" x2="268.13" y2="912.50" stroke="#333" stroke-width="0.9" />
<line x1="269.70" y1="909.00" x2="269.70" y2="912.50" stroke="#333" stroke-width="0.9" />
<line x1="271.10" y1="909.00" x2="271.10" y2="915.00" stroke="#333" stroke-width="0.9" />
<line x1="280.31" y1="909.00" x2="280.31" y2="912.50" stroke="#333" stroke-width="0.9" />
<line x1="285.70" y1="909.00" x2="285.70" y2="912.50" stroke="#333" stroke-width="0.9" />
<line x1="289.52" y1="909.00" x2="289.52" y2="912.50" stroke="#333" stroke-width="0.9" />
<line x1="292.49" y1="909.00" x2="292.49" y2="912.50" stroke="#333" stroke-width="0.9" />
<line x1="294.91" y1="909.00" x2="294.91" y2="912.50" stroke="#333" stroke-width="0.9" />
<line x1="296.96" y1="909.00" x2="296.96" y2="912.50" stroke="#333" stroke-width="0.9" />
<line x1="298.73" y1="909.00" x2="298.73" y2="912.50" stroke="#333" stroke-width="0.9" />
<line x1="300.30" y1="909.00" x2="300.30" y2="912.50" stroke="#333" stroke-width="0.9" />
<line x1="301.70" y1="909.00" x2="301.70" y2="915.00" stroke="#333" stroke-width="0.9" />
<line x1="310.91" y1="909.00" x2="310.91" y2="912.50" stroke="#333" stroke-width="0.9" />
<line x1="316.30" y1="909.00" x2="316.30" y2="912.50" stroke="#333" stroke-width="0.9" />
<line x1="320.12" y1="909.00" x2="320.12" y2="912.50" stroke="#333" stroke-width="0.9" />
<line x1="323.09" y1="909.00" x2="323.09" y2="912.50" stroke="#333" stroke-width="0.9" />
<line x1="325.51" y1="909.00" x2="325.51" y2="912.50" stroke="#333" stroke-width="0.9" />
<line x1="327.56" y1="909.00" x2="327.56" y2="912.50" stroke="#333" stroke-width="0.9" />
<line x1="329.33" y1="909.00" x2="329.33" y2="912.50" stroke="#333" stroke-width="0.9" />
<line x1="330.90" y1="909.00" x2="330.90" y2="912.50" stroke="#333" stroke-width="0.9" />
<line x1="332.30" y1="909.00" x2="332.30" y2="915.00" stroke="#333" stroke-width="0.9" />
<line x1="341.51" y1="909.00" x2="341.51" y2="912.50" stroke="#333" stroke-width="0.9" />
<text class="ns" x="235.00" y="924.00" font-family="Liberation Sans" font-size="7" letter-spacing="-0.3" fill="#222">10<tspan dy="-3.5" font-size="6.5">2</tspan></text>
<text class="ns" x="265.60" y="924.00" font-family="Liberation Sans" font-size="7" letter-spacing="-0.3" fill="#222">10<tspan dy="-3.5" font-size="6.5">3</tspan></text>
<text class="ns" x="296.20" y="924.00" font-family="Liberation Sans" font-size="7" letter-spacing="-0.3" fill="#222">10<tspan dy="-3.5" font-size="6.5">4</tspan></text>
<text class="ns" x="326.80" y="924.00" font-family="Liberation Sans" font-size="7" letter-spacing="-0.3" fill="#222">10<tspan dy="-3.5" font-size="6.5">5</tspan></text>
<rect x="241.80" y="825.60" width="50.60" height="51.70" fill="none" stroke="#444" stroke-width="1.3"/>
<text x="267.50" y="820.50" font-family="Liberation Serif" font-weight="bold" font-size="15.2" text-anchor="middle" fill="#111" >1.7%</text>
<text x="286.00" y="760.30" font-family="Liberation Serif" font-weight="bold" font-size="13.6" text-anchor="middle" fill="#111" class="lt">PMF CD34<tspan dy="-5" font-size="9">+</tspan><tspan dy="5"> cells</tspan></text>
<text x="286.00" y="776.10" font-family="Liberation Serif" font-weight="bold" font-size="13.6" text-anchor="middle" fill="#111" class="lt">treated with</text>
<text x="286.00" y="791.90" font-family="Liberation Serif" font-weight="bold" font-size="13.6" text-anchor="middle" fill="#111" class="lt">cytokines alone</text>
<rect x="253.5" y="888.7" width="1" height="1" fill="#000" opacity="0.7"/>
<rect x="250.6" y="895.2" width="1" height="1" fill="#000" opacity="0.7"/>
<rect x="251.3" y="882.8" width="1" height="1" fill="#000" opacity="0.7"/>
<rect x="249.4" y="888.0" width="1" height="1" fill="#000" opacity="0.7"/>
<rect x="248.4" y="887.2" width="1" height="1" fill="#000" opacity="0.7"/>
<rect x="249.2" y="891.7" width="1" height="1" fill="#000" opacity="0.7"/>
<rect x="248.6" y="897.4" width="1" height="1" fill="#000" opacity="0.7"/>
<rect x="251.8" y="890.9" width="1" height="1" fill="#000" opacity="0.7"/>
<rect x="248.9" y="896.1" width="1" height="1" fill="#000" opacity="0.7"/>
<rect x="250.3" y="894.4" width="1" height="1" fill="#000" opacity="0.7"/>
<rect x="248.7" y="895.5" width="1" height="1" fill="#000" opacity="0.7"/>
<rect x="247.7" y="905.5" width="1" height="1" fill="#000" opacity="0.7"/>
<rect x="248.1" y="892.3" width="1" height="1" fill="#000" opacity="0.7"/>
<rect x="250.0" y="895.8" width="1" height="1" fill="#000" opacity="0.7"/>
<rect x="249.6" y="897.9" width="1" height="1" fill="#000" opacity="0.7"/>
<rect x="244.5" y="892.1" width="1" height="1" fill="#000" opacity="0.7"/>
<rect x="249.6" y="889.5" width="1" height="1" fill="#000" opacity="0.7"/>
<rect x="252.1" y="885.1" width="1" height="1" fill="#000" opacity="0.7"/>
<rect x="250.2" y="879.9" width="1" height="1" fill="#000" opacity="0.7"/>
<rect x="250.9" y="892.9" width="1" height="1" fill="#000" opacity="0.7"/>
<rect x="250.1" y="881.3" width="1" height="1" fill="#000" opacity="0.7"/>
<rect x="248.2" y="896.4" width="1" height="1" fill="#000" opacity="0.7"/>
<rect x="246.6" y="895.1" width="1" height="1" fill="#000" opacity="0.7"/>
<rect x="247.2" y="893.9" width="1" height="1" fill="#000" opacity="0.7"/>
<rect x="248.1" y="907.2" width="1" height="1" fill="#000" opacity="0.7"/>
<rect x="251.3" y="888.8" width="1" height="1" fill="#000" opacity="0.7"/>
<rect x="246.9" y="886.6" width="1" height="1" fill="#000" opacity="0.7"/>
<rect x="261.3" y="893.3" width="1" height="1" fill="#000" opacity="0.6"/>
<rect x="264.4" y="903.4" width="1" height="1" fill="#000" opacity="0.6"/>
<rect x="261.3" y="896.1" width="1" height="1" fill="#000" opacity="0.6"/>
<rect x="269.0" y="896.8" width="1" height="1" fill="#000" opacity="0.6"/>
<rect x="269.6" y="896.7" width="1" height="1" fill="#000" opacity="0.6"/>
<rect x="276.6" y="896.9" width="1" height="1" fill="#000" opacity="0.6"/>
<rect x="252.1" y="898.8" width="1" height="1" fill="#000" opacity="0.6"/>
<rect x="256.0" y="893.6" width="1" height="1" fill="#000" opacity="0.6"/>
<rect x="260.7" y="902.2" width="1" height="1" fill="#000" opacity="0.6"/>
<rect x="242.1" y="898.1" width="1" height="1" fill="#000" opacity="0.6"/>
<rect x="260.5" y="897.6" width="1" height="1" fill="#000" opacity="0.6"/>
<rect x="269.2" y="891.7" width="1" height="1" fill="#000" opacity="0.6"/>
<rect x="267.9" y="897.2" width="1" height="1" fill="#000" opacity="0.6"/>
<rect x="262.9" y="897.3" width="1" height="1" fill="#000" opacity="0.6"/>
<rect x="258.9" y="895.7" width="1" height="1" fill="#000" opacity="0.6"/>
<rect x="271.6" y="902.8" width="1" height="1" fill="#000" opacity="0.6"/>
<rect x="267.1" y="896.0" width="1" height="1" fill="#000" opacity="0.6"/>
<rect x="250.3" y="902.7" width="1" height="1" fill="#000" opacity="0.6"/>
<rect x="271.4" y="899.9" width="1" height="1" fill="#000" opacity="0.6"/>
<rect x="269.3" y="905.6" width="1" height="1" fill="#000" opacity="0.6"/>
<rect x="282.4" y="905.2" width="1" height="1" fill="#000" opacity="0.6"/>
<rect x="277.4" y="900.3" width="1" height="1" fill="#000" opacity="0.6"/>
<rect x="269.9" y="899.5" width="1" height="1" fill="#000" opacity="0.6"/>
<rect x="265.0" y="896.3" width="1" height="1" fill="#000" opacity="0.6"/>
<rect x="268.6" y="906.0" width="1" height="1" fill="#000" opacity="0.6"/>
<rect x="261.0" y="900.0" width="1" height="1" fill="#000" opacity="0.6"/>
<rect x="268.1" y="898.8" width="1" height="1" fill="#000" opacity="0.6"/>
<rect x="271.1" y="900.0" width="1" height="1" fill="#000" opacity="0.6"/>
<rect x="251.9" y="893.5" width="1" height="1" fill="#000" opacity="0.6"/>
<rect x="269.2" y="902.0" width="1" height="1" fill="#000" opacity="0.6"/>
<rect x="272.6" y="900.0" width="1" height="1" fill="#000" opacity="0.6"/>
<rect x="264.5" y="890.8" width="1" height="1" fill="#000" opacity="0.6"/>
<rect x="275.3" y="894.2" width="1" height="1" fill="#000" opacity="0.6"/>
<rect x="251.0" y="873.0" width="1.2" height="1.2" fill="#333"/>
<rect x="389.20" y="800.80" width="121.50" height="107.70" fill="none" stroke="#444" stroke-width="1.3"/>
<line x1="385.70" y1="906.21" x2="389.20" y2="906.21" stroke="#333" stroke-width="0.9" />
<line x1="385.70" y1="902.89" x2="389.20" y2="902.89" stroke="#333" stroke-width="0.9" />
<line x1="385.70" y1="900.31" x2="389.20" y2="900.31" stroke="#333" stroke-width="0.9" />
<line x1="385.70" y1="898.20" x2="389.20" y2="898.20" stroke="#333" stroke-width="0.9" />
<line x1="385.70" y1="896.42" x2="389.20" y2="896.42" stroke="#333" stroke-width="0.9" />
<line x1="385.70" y1="894.88" x2="389.20" y2="894.88" stroke="#333" stroke-width="0.9" />
<line x1="385.70" y1="893.52" x2="389.20" y2="893.52" stroke="#333" stroke-width="0.9" />
<line x1="383.20" y1="892.30" x2="389.20" y2="892.30" stroke="#333" stroke-width="0.9" />
<line x1="385.70" y1="884.29" x2="389.20" y2="884.29" stroke="#333" stroke-width="0.9" />
<line x1="385.70" y1="879.61" x2="389.20" y2="879.61" stroke="#333" stroke-width="0.9" />
<line x1="385.70" y1="876.29" x2="389.20" y2="876.29" stroke="#333" stroke-width="0.9" />
<line x1="385.70" y1="873.71" x2="389.20" y2="873.71" stroke="#333" stroke-width="0.9" />
<line x1="385.70" y1="871.60" x2="389.20" y2="871.60" stroke="#333" stroke-width="0.9" />
<line x1="385.70" y1="869.82" x2="389.20" y2="869.82" stroke="#333" stroke-width="0.9" />
<line x1="385.70" y1="868.28" x2="389.20" y2="868.28" stroke="#333" stroke-width="0.9" />
<line x1="385.70" y1="866.92" x2="389.20" y2="866.92" stroke="#333" stroke-width="0.9" />
<line x1="383.20" y1="865.70" x2="389.20" y2="865.70" stroke="#333" stroke-width="0.9" />
<line x1="385.70" y1="857.69" x2="389.20" y2="857.69" stroke="#333" stroke-width="0.9" />
<line x1="385.70" y1="853.01" x2="389.20" y2="853.01" stroke="#333" stroke-width="0.9" />
<line x1="385.70" y1="849.69" x2="389.20" y2="849.69" stroke="#333" stroke-width="0.9" />
<line x1="385.70" y1="847.11" x2="389.20" y2="847.11" stroke="#333" stroke-width="0.9" />
<line x1="385.70" y1="845.00" x2="389.20" y2="845.00" stroke="#333" stroke-width="0.9" />
<line x1="385.70" y1="843.22" x2="389.20" y2="843.22" stroke="#333" stroke-width="0.9" />
<line x1="385.70" y1="841.68" x2="389.20" y2="841.68" stroke="#333" stroke-width="0.9" />
<line x1="385.70" y1="840.32" x2="389.20" y2="840.32" stroke="#333" stroke-width="0.9" />
<line x1="383.20" y1="839.10" x2="389.20" y2="839.10" stroke="#333" stroke-width="0.9" />
<line x1="385.70" y1="831.09" x2="389.20" y2="831.09" stroke="#333" stroke-width="0.9" />
<line x1="385.70" y1="826.41" x2="389.20" y2="826.41" stroke="#333" stroke-width="0.9" />
<line x1="385.70" y1="823.09" x2="389.20" y2="823.09" stroke="#333" stroke-width="0.9" />
<line x1="385.70" y1="820.51" x2="389.20" y2="820.51" stroke="#333" stroke-width="0.9" />
<line x1="385.70" y1="818.40" x2="389.20" y2="818.40" stroke="#333" stroke-width="0.9" />
<line x1="385.70" y1="816.62" x2="389.20" y2="816.62" stroke="#333" stroke-width="0.9" />
<line x1="385.70" y1="815.08" x2="389.20" y2="815.08" stroke="#333" stroke-width="0.9" />
<line x1="385.70" y1="813.72" x2="389.20" y2="813.72" stroke="#333" stroke-width="0.9" />
<line x1="383.20" y1="812.50" x2="389.20" y2="812.50" stroke="#333" stroke-width="0.9" />
<line x1="385.70" y1="804.49" x2="389.20" y2="804.49" stroke="#333" stroke-width="0.9" />
<text class="ns" transform="translate(381.40,897.60) rotate(-90)" font-family="Liberation Sans" font-size="7" letter-spacing="-0.3" fill="#222">10<tspan dy="-3.5" font-size="6.5">2</tspan></text>
<text class="ns" transform="translate(381.40,871.00) rotate(-90)" font-family="Liberation Sans" font-size="7" letter-spacing="-0.3" fill="#222">10<tspan dy="-3.5" font-size="6.5">3</tspan></text>
<text class="ns" transform="translate(381.40,844.40) rotate(-90)" font-family="Liberation Sans" font-size="7" letter-spacing="-0.3" fill="#222">10<tspan dy="-3.5" font-size="6.5">4</tspan></text>
<text class="ns" transform="translate(381.40,817.80) rotate(-90)" font-family="Liberation Sans" font-size="7" letter-spacing="-0.3" fill="#222">10<tspan dy="-3.5" font-size="6.5">5</tspan></text>
<line x1="393.74" y1="908.50" x2="393.74" y2="912.00" stroke="#333" stroke-width="0.9" />
<line x1="396.68" y1="908.50" x2="396.68" y2="912.00" stroke="#333" stroke-width="0.9" />
<line x1="399.08" y1="908.50" x2="399.08" y2="912.00" stroke="#333" stroke-width="0.9" />
<line x1="401.11" y1="908.50" x2="401.11" y2="912.00" stroke="#333" stroke-width="0.9" />
<line x1="402.86" y1="908.50" x2="402.86" y2="912.00" stroke="#333" stroke-width="0.9" />
<line x1="404.41" y1="908.50" x2="404.41" y2="912.00" stroke="#333" stroke-width="0.9" />
<line x1="405.80" y1="908.50" x2="405.80" y2="914.50" stroke="#333" stroke-width="0.9" />
<line x1="414.92" y1="908.50" x2="414.92" y2="912.00" stroke="#333" stroke-width="0.9" />
<line x1="420.26" y1="908.50" x2="420.26" y2="912.00" stroke="#333" stroke-width="0.9" />
<line x1="424.04" y1="908.50" x2="424.04" y2="912.00" stroke="#333" stroke-width="0.9" />
<line x1="426.98" y1="908.50" x2="426.98" y2="912.00" stroke="#333" stroke-width="0.9" />
<line x1="429.38" y1="908.50" x2="429.38" y2="912.00" stroke="#333" stroke-width="0.9" />
<line x1="431.41" y1="908.50" x2="431.41" y2="912.00" stroke="#333" stroke-width="0.9" />
<line x1="433.16" y1="908.50" x2="433.16" y2="912.00" stroke="#333" stroke-width="0.9" />
<line x1="434.71" y1="908.50" x2="434.71" y2="912.00" stroke="#333" stroke-width="0.9" />
<line x1="436.10" y1="908.50" x2="436.10" y2="914.50" stroke="#333" stroke-width="0.9" />
<line x1="445.22" y1="908.50" x2="445.22" y2="912.00" stroke="#333" stroke-width="0.9" />
<line x1="450.56" y1="908.50" x2="450.56" y2="912.00" stroke="#333" stroke-width="0.9" />
<line x1="454.34" y1="908.50" x2="454.34" y2="912.00" stroke="#333" stroke-width="0.9" />
<line x1="457.28" y1="908.50" x2="457.28" y2="912.00" stroke="#333" stroke-width="0.9" />
<line x1="459.68" y1="908.50" x2="459.68" y2="912.00" stroke="#333" stroke-width="0.9" />
<line x1="461.71" y1="908.50" x2="461.71" y2="912.00" stroke="#333" stroke-width="0.9" />
<line x1="463.46" y1="908.50" x2="463.46" y2="912.00" stroke="#333" stroke-width="0.9" />
<line x1="465.01" y1="908.50" x2="465.01" y2="912.00" stroke="#333" stroke-width="0.9" />
<line x1="466.40" y1="908.50" x2="466.40" y2="914.50" stroke="#333" stroke-width="0.9" />
<line x1="475.52" y1="908.50" x2="475.52" y2="912.00" stroke="#333" stroke-width="0.9" />
<line x1="480.86" y1="908.50" x2="480.86" y2="912.00" stroke="#333" stroke-width="0.9" />
<line x1="484.64" y1="908.50" x2="484.64" y2="912.00" stroke="#333" stroke-width="0.9" />
<line x1="487.58" y1="908.50" x2="487.58" y2="912.00" stroke="#333" stroke-width="0.9" />
<line x1="489.98" y1="908.50" x2="489.98" y2="912.00" stroke="#333" stroke-width="0.9" />
<line x1="492.01" y1="908.50" x2="492.01" y2="912.00" stroke="#333" stroke-width="0.9" />
<line x1="493.76" y1="908.50" x2="493.76" y2="912.00" stroke="#333" stroke-width="0.9" />
<line x1="495.31" y1="908.50" x2="495.31" y2="912.00" stroke="#333" stroke-width="0.9" />
<line x1="496.70" y1="908.50" x2="496.70" y2="914.50" stroke="#333" stroke-width="0.9" />
<line x1="505.82" y1="908.50" x2="505.82" y2="912.00" stroke="#333" stroke-width="0.9" />
<text class="ns" x="400.30" y="923.50" font-family="Liberation Sans" font-size="7" letter-spacing="-0.3" fill="#222">10<tspan dy="-3.5" font-size="6.5">2</tspan></text>
<text class="ns" x="430.60" y="923.50" font-family="Liberation Sans" font-size="7" letter-spacing="-0.3" fill="#222">10<tspan dy="-3.5" font-size="6.5">3</tspan></text>
<text class="ns" x="460.90" y="923.50" font-family="Liberation Sans" font-size="7" letter-spacing="-0.3" fill="#222">10<tspan dy="-3.5" font-size="6.5">4</tspan></text>
<text class="ns" x="491.20" y="923.50" font-family="Liberation Sans" font-size="7" letter-spacing="-0.3" fill="#222">10<tspan dy="-3.5" font-size="6.5">5</tspan></text>
<rect x="406.80" y="826.00" width="49.90" height="51.00" fill="none" stroke="#444" stroke-width="1.3"/>
<text x="433.00" y="820.50" font-family="Liberation Serif" font-weight="bold" font-size="15.2" text-anchor="middle" fill="#111" >13.2%</text>
<text x="447.00" y="762.90" font-family="Liberation Serif" font-weight="bold" font-size="13.6" text-anchor="middle" fill="#111" class="lt">PMF CD34<tspan dy="-5" font-size="9">+</tspan><tspan dy="5"> cells treated</tspan></text>
<text x="447.00" y="779.20" font-family="Liberation Serif" font-weight="bold" font-size="13.6" text-anchor="middle" fill="#111" class="lt">with</text>
<text x="447.00" y="795.50" font-family="Liberation Serif" font-weight="bold" font-size="13.6" text-anchor="middle" fill="#111" class="lt">cytokines+5azaD/SAHA</text>
<rect x="417.3" y="903.9" width="1" height="1" fill="#000" opacity="0.8"/>
<rect x="414.2" y="902.5" width="1" height="1" fill="#000" opacity="0.8"/>
<rect x="416.2" y="895.6" width="1" height="1" fill="#000" opacity="0.8"/>
<rect x="422.7" y="897.9" width="1" height="1" fill="#000" opacity="0.8"/>
<rect x="416.9" y="901.0" width="1" height="1" fill="#000" opacity="0.8"/>
<rect x="420.4" y="896.8" width="1" height="1" fill="#000" opacity="0.8"/>
<rect x="418.8" y="891.6" width="1" height="1" fill="#000" opacity="0.8"/>
<rect x="415.9" y="894.6" width="1" height="1" fill="#000" opacity="0.8"/>
<rect x="413.0" y="888.7" width="1" height="1" fill="#000" opacity="0.8"/>
<rect x="412.1" y="895.7" width="1" height="1" fill="#000" opacity="0.8"/>
<rect x="416.5" y="895.2" width="1" height="1" fill="#000" opacity="0.8"/>
<rect x="417.2" y="889.7" width="1" height="1" fill="#000" opacity="0.8"/>
<rect x="416.8" y="898.3" width="1" height="1" fill="#000" opacity="0.8"/>
<rect x="419.3" y="892.3" width="1" height="1" fill="#000" opacity="0.8"/>
<rect x="415.8" y="885.9" width="1" height="1" fill="#000" opacity="0.8"/>
<rect x="415.5" y="884.9" width="1" height="1" fill="#000" opacity="0.8"/>
<rect x="412.7" y="903.1" width="1" height="1" fill="#000" opacity="0.8"/>
<rect x="410.4" y="901.4" width="1" height="1" fill="#000" opacity="0.8"/>
<rect x="418.0" y="895.3" width="1" height="1" fill="#000" opacity="0.8"/>
<rect x="418.4" y="899.9" width="1" height="1" fill="#000" opacity="0.8"/>
<rect x="420.1" y="895.7" width="1" height="1" fill="#000" opacity="0.8"/>
<rect x="415.2" y="893.7" width="1" height="1" fill="#000" opacity="0.8"/>
<rect x="414.0" y="896.8" width="1" height="1" fill="#000" opacity="0.8"/>
<rect x="414.6" y="902.9" width="1" height="1" fill="#000" opacity="0.8"/>
<rect x="411.4" y="891.0" width="1" height="1" fill="#000" opacity="0.8"/>
<rect x="414.1" y="885.5" width="1" height="1" fill="#000" opacity="0.8"/>
<rect x="422.7" y="883.8" width="1" height="1" fill="#000" opacity="0.8"/>
<rect x="416.2" y="894.1" width="1" height="1" fill="#000" opacity="0.8"/>
<rect x="422.0" y="886.1" width="1" height="1" fill="#000" opacity="0.8"/>
<rect x="420.2" y="893.0" width="1" height="1" fill="#000" opacity="0.8"/>
<rect x="416.5" y="893.3" width="1" height="1" fill="#000" opacity="0.8"/>
<rect x="418.9" y="890.7" width="1" height="1" fill="#000" opacity="0.8"/>
<rect x="416.8" y="898.9" width="1" height="1" fill="#000" opacity="0.8"/>
<rect x="422.5" y="883.8" width="1" height="1" fill="#000" opacity="0.8"/>
<rect x="421.6" y="902.2" width="1" height="1" fill="#000" opacity="0.8"/>
<rect x="415.5" y="898.7" width="1" height="1" fill="#000" opacity="0.8"/>
<rect x="415.6" y="906.1" width="1" height="1" fill="#000" opacity="0.8"/>
<rect x="417.6" y="895.8" width="1" height="1" fill="#000" opacity="0.8"/>
<rect x="416.3" y="895.9" width="1" height="1" fill="#000" opacity="0.8"/>
<rect x="416.5" y="892.2" width="1" height="1" fill="#000" opacity="0.8"/>
<rect x="423.2" y="886.5" width="1" height="1" fill="#000" opacity="0.8"/>
<rect x="406.2" y="896.3" width="1" height="1" fill="#000" opacity="0.8"/>
<rect x="416.6" y="899.0" width="1" height="1" fill="#000" opacity="0.8"/>
<rect x="416.4" y="896.2" width="1" height="1" fill="#000" opacity="0.8"/>
<rect x="418.0" y="902.3" width="1" height="1" fill="#000" opacity="0.8"/>
<rect x="415.7" y="894.9" width="1" height="1" fill="#000" opacity="0.8"/>
<rect x="422.8" y="899.9" width="1" height="1" fill="#000" opacity="0.8"/>
<rect x="419.3" y="893.8" width="1" height="1" fill="#000" opacity="0.8"/>
<rect x="413.5" y="898.6" width="1" height="1" fill="#000" opacity="0.8"/>
<rect x="414.5" y="891.2" width="1" height="1" fill="#000" opacity="0.8"/>
<rect x="413.1" y="894.2" width="1" height="1" fill="#000" opacity="0.8"/>
<rect x="420.3" y="894.6" width="1" height="1" fill="#000" opacity="0.8"/>
<rect x="412.7" y="900.7" width="1" height="1" fill="#000" opacity="0.8"/>
<rect x="417.2" y="901.6" width="1" height="1" fill="#000" opacity="0.8"/>
<rect x="420.6" y="896.1" width="1" height="1" fill="#000" opacity="0.8"/>
<rect x="416.6" y="896.7" width="1" height="1" fill="#000" opacity="0.8"/>
<rect x="413.6" y="900.7" width="1" height="1" fill="#000" opacity="0.8"/>
<rect x="421.1" y="898.0" width="1" height="1" fill="#000" opacity="0.8"/>
<rect x="416.3" y="895.6" width="1" height="1" fill="#000" opacity="0.8"/>
<rect x="414.7" y="892.6" width="1" height="1" fill="#000" opacity="0.8"/>
<rect x="415.8" y="892.4" width="1" height="1" fill="#000" opacity="0.8"/>
<rect x="415.7" y="888.3" width="1" height="1" fill="#000" opacity="0.8"/>
<rect x="418.1" y="897.3" width="1" height="1" fill="#000" opacity="0.8"/>
<rect x="413.5" y="884.4" width="1" height="1" fill="#000" opacity="0.8"/>
<rect x="417.0" y="903.1" width="1" height="1" fill="#000" opacity="0.8"/>
<rect x="414.8" y="894.3" width="1" height="1" fill="#000" opacity="0.8"/>
<rect x="415.3" y="900.6" width="1" height="1" fill="#000" opacity="0.8"/>
<rect x="414.3" y="902.4" width="1" height="1" fill="#000" opacity="0.8"/>
<rect x="416.1" y="902.1" width="1" height="1" fill="#000" opacity="0.8"/>
<rect x="417.1" y="895.7" width="1" height="1" fill="#000" opacity="0.8"/>
<rect x="412.6" y="893.2" width="1" height="1" fill="#000" opacity="0.8"/>
<rect x="416.2" y="900.6" width="1" height="1" fill="#000" opacity="0.8"/>
<rect x="417.7" y="893.2" width="1" height="1" fill="#000" opacity="0.8"/>
<rect x="418.2" y="902.4" width="1" height="1" fill="#000" opacity="0.8"/>
<rect x="416.6" y="894.6" width="1" height="1" fill="#000" opacity="0.8"/>
<rect x="415.8" y="901.5" width="1" height="1" fill="#000" opacity="0.8"/>
<rect x="418.6" y="891.9" width="1" height="1" fill="#000" opacity="0.8"/>
<rect x="418.1" y="894.4" width="1" height="1" fill="#000" opacity="0.8"/>
<rect x="414.7" y="903.8" width="1" height="1" fill="#000" opacity="0.8"/>
<rect x="431.7" y="894.4" width="1" height="1" fill="#000" opacity="0.55"/>
<rect x="426.6" y="900.5" width="1" height="1" fill="#000" opacity="0.55"/>
<rect x="421.5" y="897.4" width="1" height="1" fill="#000" opacity="0.55"/>
<rect x="430.7" y="889.1" width="1" height="1" fill="#000" opacity="0.55"/>
<rect x="428.3" y="901.7" width="1" height="1" fill="#000" opacity="0.55"/>
<rect x="429.5" y="891.3" width="1" height="1" fill="#000" opacity="0.55"/>
<rect x="428.2" y="893.7" width="1" height="1" fill="#000" opacity="0.55"/>
<rect x="430.0" y="901.0" width="1" height="1" fill="#000" opacity="0.55"/>
<rect x="427.5" y="894.2" width="1" height="1" fill="#000" opacity="0.55"/>
<rect x="421.9" y="902.3" width="1" height="1" fill="#000" opacity="0.55"/>
<rect x="419.7" y="900.5" width="1" height="1" fill="#000" opacity="0.55"/>
<rect x="429.6" y="896.6" width="1" height="1" fill="#000" opacity="0.55"/>
<rect x="442.8" y="898.4" width="1" height="1" fill="#000" opacity="0.55"/>
<rect x="441.0" y="887.9" width="1" height="1" fill="#000" opacity="0.55"/>
<rect x="410.3" y="902.9" width="1" height="1" fill="#000" opacity="0.55"/>
<rect x="430.5" y="896.4" width="1" height="1" fill="#000" opacity="0.55"/>
<rect x="425.6" y="888.5" width="1" height="1" fill="#000" opacity="0.55"/>
<rect x="421.6" y="892.8" width="1" height="1" fill="#000" opacity="0.55"/>
<rect x="424.4" y="902.4" width="1" height="1" fill="#000" opacity="0.55"/>
<rect x="426.4" y="899.9" width="1" height="1" fill="#000" opacity="0.55"/>
<rect x="421.1" y="895.8" width="1" height="1" fill="#000" opacity="0.55"/>
<rect x="426.8" y="896.6" width="1" height="1" fill="#000" opacity="0.55"/>
<rect x="434.9" y="893.6" width="1" height="1" fill="#000" opacity="0.55"/>
<rect x="439.2" y="893.1" width="1" height="1" fill="#000" opacity="0.55"/>
<rect x="433.4" y="894.1" width="1" height="1" fill="#000" opacity="0.55"/>
<rect x="437.5" y="898.7" width="1" height="1" fill="#000" opacity="0.55"/>
<rect x="428.8" y="901.7" width="1" height="1" fill="#000" opacity="0.55"/>
<rect x="421.6" y="892.8" width="1" height="1" fill="#000" opacity="0.55"/>
<rect x="411.8" y="904.1" width="1" height="1" fill="#000" opacity="0.55"/>
<rect x="421.1" y="895.0" width="1" height="1" fill="#000" opacity="0.55"/>
<rect x="419.6" y="859.4" width="1.2" height="1.2" fill="#777"/>
<rect x="431.1" y="858.7" width="1.2" height="1.2" fill="#777"/>
<rect x="442.0" y="869.5" width="1.2" height="1.2" fill="#777"/>
<rect x="418.9" y="872.4" width="1.2" height="1.2" fill="#777"/>
<rect x="413.0" y="873.8" width="1.2" height="1.2" fill="#777"/>
<rect x="418.6" y="866.6" width="1.2" height="1.2" fill="#777"/>
<rect x="413.0" y="876.0" width="1.2" height="1.2" fill="#777"/>
<text x="3.40" y="747.70" font-family="Liberation Sans" font-weight="bold" font-size="16.5" text-anchor="start" fill="#000" >E</text>
<text transform="translate(22.5,819.5) rotate(-90)" font-family="Liberation Serif" font-weight="bold" font-size="15" text-anchor="middle" fill="#111">CXCR4</text>
<path d="M15.9 852 V940.8 H268" fill="none" stroke="#111" stroke-width="2"/>
<path d="M11.3 859.2 L15.9 851 L20.5 859.2" fill="none" stroke="#111" stroke-width="2"/>
<path d="M261 935.5 L269.5 940.8 L261 946" fill="none" stroke="#111" stroke-width="2"/>
<text x="272.50" y="946.80" font-family="Liberation Serif" font-weight="bold" font-size="15" text-anchor="start" fill="#111" >CD34</text>
</svg>
</body></html>
